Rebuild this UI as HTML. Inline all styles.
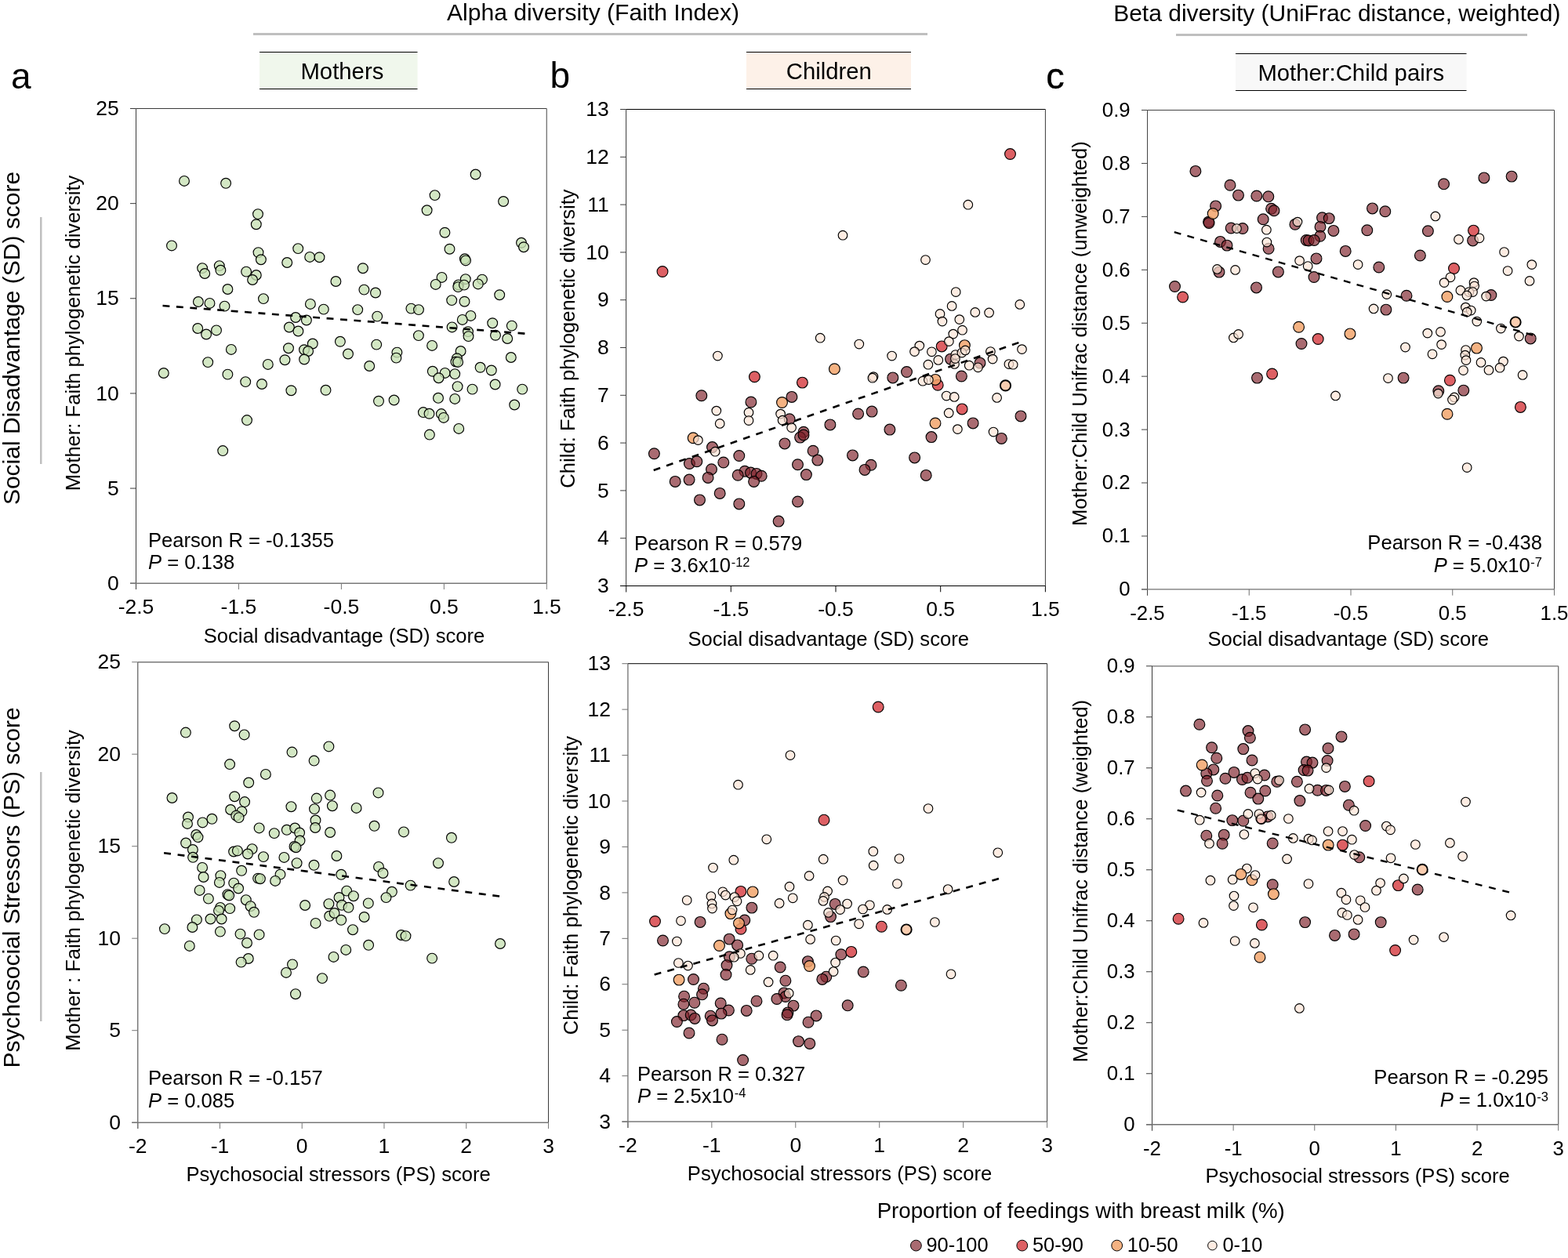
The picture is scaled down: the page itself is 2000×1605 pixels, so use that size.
<!DOCTYPE html>
<html lang="en"><head><meta charset="utf-8"><title>Figure</title>
<style>html,body{margin:0;padding:0;background:#fff}svg{display:block}</style></head>
<body>
<svg width="2000" height="1605" viewBox="0 0 2000 1605" font-family="'Liberation Sans', Arial, sans-serif" fill="#000">
<rect width="2000" height="1605" fill="#fff"/>
<text x="756.5" y="26.3" font-size="30.1" text-anchor="middle">Alpha diversity (Faith Index)</text>
<rect x="323" y="42" width="860" height="3" fill="#bfbfbf"/>
<text x="1705.3" y="26.6" font-size="30" text-anchor="middle">Beta diversity (UniFrac distance, weighted)</text>
<rect x="1500" y="43" width="448" height="3" fill="#bfbfbf"/>
<rect x="331" y="66.5" width="201.5" height="47.0" fill="#f0f7ec"/>
<path d="M331 66.5H532.5M331 113.5H532.5" stroke="#000" stroke-width="1.1" fill="none"/>
<text x="436.4" y="100.9" font-size="29.3" text-anchor="middle">Mothers</text>
<rect x="952" y="66.5" width="210" height="47.0" fill="#fdf1e8"/>
<path d="M952 66.5H1162M952 113.5H1162" stroke="#000" stroke-width="1.1" fill="none"/>
<text x="1057.3" y="100.9" font-size="29.3" text-anchor="middle">Children</text>
<rect x="1576" y="68.5" width="294.5" height="47.0" fill="#f8f8f8"/>
<path d="M1576 68.5H1870.5M1576 115.5H1870.5" stroke="#000" stroke-width="1.1" fill="none"/>
<text x="1723.25" y="103.0" font-size="29.3" text-anchor="middle">Mother:Child pairs</text>
<text x="14" y="113" font-size="46" text-anchor="start">a</text>
<text x="701.5" y="112" font-size="46" text-anchor="start">b</text>
<text x="1334.3" y="112.7" font-size="46.8" text-anchor="start" stroke="#000" stroke-width="0.35">c</text>
<text x="25" y="431.5" font-size="30" text-anchor="middle" transform="rotate(-90 25 431.5)">Social Disadvantage (SD) score</text>
<rect x="51" y="277" width="2.5" height="315" fill="#bfbfbf"/>
<text x="25" y="1132.5" font-size="30" text-anchor="middle" transform="rotate(-90 25 1132.5)">Psychosocial Stressors (PS) score</text>
<rect x="51" y="985" width="2.5" height="318" fill="#bfbfbf"/>
<g>
<path d="M173.5 138.5H697.3" fill="none" stroke="#3a3a3a" stroke-width="1.0"/>
<path d="M697.3 138.5V744.2" fill="none" stroke="#707070" stroke-width="1.3"/>
<text x="151.7" y="752.8" font-size="26.5" text-anchor="end">0</text>
<text x="151.7" y="631.66" font-size="26.5" text-anchor="end">5</text>
<text x="151.7" y="510.52" font-size="26.5" text-anchor="end">10</text>
<text x="151.7" y="389.38" font-size="26.5" text-anchor="end">15</text>
<text x="151.7" y="268.24" font-size="26.5" text-anchor="end">20</text>
<text x="151.7" y="147.1" font-size="26.5" text-anchor="end">25</text>
<text x="173.5" y="783.0" font-size="26.5" text-anchor="middle">-2.5</text>
<text x="304.45" y="783.0" font-size="26.5" text-anchor="middle">-1.5</text>
<text x="435.4" y="783.0" font-size="26.5" text-anchor="middle">-0.5</text>
<text x="566.35" y="783.0" font-size="26.5" text-anchor="middle">0.5</text>
<text x="697.3" y="783.0" font-size="26.5" text-anchor="middle">1.5</text>
<path d="M166.0 744.20H173.5M166.0 623.06H173.5M166.0 501.92H173.5M166.0 380.78H173.5M166.0 259.64H173.5M166.0 138.50H173.5" fill="none" stroke="#3a3a3a" stroke-width="1"/>
<path d="M173.50 744.2V752.0M304.45 744.2V752.0M435.40 744.2V752.0M566.35 744.2V752.0M697.30 744.2V752.0" fill="none" stroke="#787878" stroke-width="1"/>
<path d="M173.5 138.5V752.0" fill="none" stroke="#3a3a3a" stroke-width="1.0"/>
<path d="M166.0 744.2H697.3" fill="none" stroke="#787878" stroke-width="1.5"/>
<text x="439" y="819.6" font-size="25.6" text-anchor="middle">Social disadvantage (SD) score</text>
<text x="102" y="425" font-size="25.6" text-anchor="middle" transform="rotate(-90 102 425)">Mother: Faith phylogenetic diversity</text>
<circle cx="235.0" cy="230.9" r="6.4" fill="#c6e0b4" fill-opacity="0.78" stroke="#000" stroke-width="1.15"/>
<circle cx="288.1" cy="233.8" r="6.4" fill="#c6e0b4" fill-opacity="0.78" stroke="#000" stroke-width="1.15"/>
<circle cx="329.0" cy="273.1" r="6.4" fill="#c6e0b4" fill-opacity="0.78" stroke="#000" stroke-width="1.15"/>
<circle cx="326.8" cy="286.2" r="6.4" fill="#c6e0b4" fill-opacity="0.78" stroke="#000" stroke-width="1.15"/>
<circle cx="219.0" cy="313.4" r="6.4" fill="#c6e0b4" fill-opacity="0.78" stroke="#000" stroke-width="1.15"/>
<circle cx="329.5" cy="322.1" r="6.4" fill="#c6e0b4" fill-opacity="0.78" stroke="#000" stroke-width="1.15"/>
<circle cx="332.9" cy="331.2" r="6.4" fill="#c6e0b4" fill-opacity="0.78" stroke="#000" stroke-width="1.15"/>
<circle cx="380.2" cy="317.1" r="6.4" fill="#c6e0b4" fill-opacity="0.78" stroke="#000" stroke-width="1.15"/>
<circle cx="395.2" cy="327.9" r="6.4" fill="#c6e0b4" fill-opacity="0.78" stroke="#000" stroke-width="1.15"/>
<circle cx="407.5" cy="328.2" r="6.4" fill="#c6e0b4" fill-opacity="0.78" stroke="#000" stroke-width="1.15"/>
<circle cx="366.2" cy="335.0" r="6.4" fill="#c6e0b4" fill-opacity="0.78" stroke="#000" stroke-width="1.15"/>
<circle cx="258.1" cy="342.1" r="6.4" fill="#c6e0b4" fill-opacity="0.78" stroke="#000" stroke-width="1.15"/>
<circle cx="261.2" cy="349.0" r="6.4" fill="#c6e0b4" fill-opacity="0.78" stroke="#000" stroke-width="1.15"/>
<circle cx="279.8" cy="339.1" r="6.4" fill="#c6e0b4" fill-opacity="0.78" stroke="#000" stroke-width="1.15"/>
<circle cx="281.4" cy="344.8" r="6.4" fill="#c6e0b4" fill-opacity="0.78" stroke="#000" stroke-width="1.15"/>
<circle cx="314.1" cy="346.6" r="6.4" fill="#c6e0b4" fill-opacity="0.78" stroke="#000" stroke-width="1.15"/>
<circle cx="326.8" cy="351.0" r="6.4" fill="#c6e0b4" fill-opacity="0.78" stroke="#000" stroke-width="1.15"/>
<circle cx="322.1" cy="357.0" r="6.4" fill="#c6e0b4" fill-opacity="0.78" stroke="#000" stroke-width="1.15"/>
<circle cx="428.4" cy="359.0" r="6.4" fill="#c6e0b4" fill-opacity="0.78" stroke="#000" stroke-width="1.15"/>
<circle cx="290.4" cy="369.0" r="6.4" fill="#c6e0b4" fill-opacity="0.78" stroke="#000" stroke-width="1.15"/>
<circle cx="336.0" cy="381.1" r="6.4" fill="#c6e0b4" fill-opacity="0.78" stroke="#000" stroke-width="1.15"/>
<circle cx="252.9" cy="385.0" r="6.4" fill="#c6e0b4" fill-opacity="0.78" stroke="#000" stroke-width="1.15"/>
<circle cx="267.5" cy="386.9" r="6.4" fill="#c6e0b4" fill-opacity="0.78" stroke="#000" stroke-width="1.15"/>
<circle cx="286.5" cy="390.6" r="6.4" fill="#c6e0b4" fill-opacity="0.78" stroke="#000" stroke-width="1.15"/>
<circle cx="395.9" cy="387.9" r="6.4" fill="#c6e0b4" fill-opacity="0.78" stroke="#000" stroke-width="1.15"/>
<circle cx="412.8" cy="394.6" r="6.4" fill="#c6e0b4" fill-opacity="0.78" stroke="#000" stroke-width="1.15"/>
<circle cx="606.6" cy="222.5" r="6.4" fill="#c6e0b4" fill-opacity="0.78" stroke="#000" stroke-width="1.15"/>
<circle cx="554.6" cy="249.1" r="6.4" fill="#c6e0b4" fill-opacity="0.78" stroke="#000" stroke-width="1.15"/>
<circle cx="544.6" cy="268.3" r="6.4" fill="#c6e0b4" fill-opacity="0.78" stroke="#000" stroke-width="1.15"/>
<circle cx="642.1" cy="257.0" r="6.4" fill="#c6e0b4" fill-opacity="0.78" stroke="#000" stroke-width="1.15"/>
<circle cx="567.4" cy="296.7" r="6.4" fill="#c6e0b4" fill-opacity="0.78" stroke="#000" stroke-width="1.15"/>
<circle cx="573.5" cy="317.7" r="6.4" fill="#c6e0b4" fill-opacity="0.78" stroke="#000" stroke-width="1.15"/>
<circle cx="665.0" cy="309.8" r="6.4" fill="#c6e0b4" fill-opacity="0.78" stroke="#000" stroke-width="1.15"/>
<circle cx="668.0" cy="315.2" r="6.4" fill="#c6e0b4" fill-opacity="0.78" stroke="#000" stroke-width="1.15"/>
<circle cx="592.9" cy="330.3" r="6.4" fill="#c6e0b4" fill-opacity="0.78" stroke="#000" stroke-width="1.15"/>
<circle cx="594.0" cy="332.4" r="6.4" fill="#c6e0b4" fill-opacity="0.78" stroke="#000" stroke-width="1.15"/>
<circle cx="462.9" cy="342.2" r="6.4" fill="#c6e0b4" fill-opacity="0.78" stroke="#000" stroke-width="1.15"/>
<circle cx="563.5" cy="353.9" r="6.4" fill="#c6e0b4" fill-opacity="0.78" stroke="#000" stroke-width="1.15"/>
<circle cx="555.7" cy="362.9" r="6.4" fill="#c6e0b4" fill-opacity="0.78" stroke="#000" stroke-width="1.15"/>
<circle cx="593.8" cy="356.1" r="6.4" fill="#c6e0b4" fill-opacity="0.78" stroke="#000" stroke-width="1.15"/>
<circle cx="615.0" cy="356.6" r="6.4" fill="#c6e0b4" fill-opacity="0.78" stroke="#000" stroke-width="1.15"/>
<circle cx="609.8" cy="362.4" r="6.4" fill="#c6e0b4" fill-opacity="0.78" stroke="#000" stroke-width="1.15"/>
<circle cx="584.8" cy="363.4" r="6.4" fill="#c6e0b4" fill-opacity="0.78" stroke="#000" stroke-width="1.15"/>
<circle cx="584.3" cy="366.1" r="6.4" fill="#c6e0b4" fill-opacity="0.78" stroke="#000" stroke-width="1.15"/>
<circle cx="592.0" cy="363.6" r="6.4" fill="#c6e0b4" fill-opacity="0.78" stroke="#000" stroke-width="1.15"/>
<circle cx="464.4" cy="369.6" r="6.4" fill="#c6e0b4" fill-opacity="0.78" stroke="#000" stroke-width="1.15"/>
<circle cx="479.0" cy="373.5" r="6.4" fill="#c6e0b4" fill-opacity="0.78" stroke="#000" stroke-width="1.15"/>
<circle cx="637.2" cy="376.2" r="6.4" fill="#c6e0b4" fill-opacity="0.78" stroke="#000" stroke-width="1.15"/>
<circle cx="576.2" cy="383.1" r="6.4" fill="#c6e0b4" fill-opacity="0.78" stroke="#000" stroke-width="1.15"/>
<circle cx="592.5" cy="384.7" r="6.4" fill="#c6e0b4" fill-opacity="0.78" stroke="#000" stroke-width="1.15"/>
<circle cx="456.2" cy="395.1" r="6.4" fill="#c6e0b4" fill-opacity="0.78" stroke="#000" stroke-width="1.15"/>
<circle cx="524.4" cy="393.6" r="6.4" fill="#c6e0b4" fill-opacity="0.78" stroke="#000" stroke-width="1.15"/>
<circle cx="534.0" cy="395.1" r="6.4" fill="#c6e0b4" fill-opacity="0.78" stroke="#000" stroke-width="1.15"/>
<circle cx="481.2" cy="403.6" r="6.4" fill="#c6e0b4" fill-opacity="0.78" stroke="#000" stroke-width="1.15"/>
<circle cx="600.4" cy="402.9" r="6.4" fill="#c6e0b4" fill-opacity="0.78" stroke="#000" stroke-width="1.15"/>
<circle cx="589.8" cy="407.9" r="6.4" fill="#c6e0b4" fill-opacity="0.78" stroke="#000" stroke-width="1.15"/>
<circle cx="628.2" cy="412.2" r="6.4" fill="#c6e0b4" fill-opacity="0.78" stroke="#000" stroke-width="1.15"/>
<circle cx="652.8" cy="415.6" r="6.4" fill="#c6e0b4" fill-opacity="0.78" stroke="#000" stroke-width="1.15"/>
<circle cx="576.6" cy="417.4" r="6.4" fill="#c6e0b4" fill-opacity="0.78" stroke="#000" stroke-width="1.15"/>
<circle cx="377.1" cy="405.0" r="6.4" fill="#c6e0b4" fill-opacity="0.78" stroke="#000" stroke-width="1.15"/>
<circle cx="390.9" cy="408.5" r="6.4" fill="#c6e0b4" fill-opacity="0.78" stroke="#000" stroke-width="1.15"/>
<circle cx="252.2" cy="419.0" r="6.4" fill="#c6e0b4" fill-opacity="0.78" stroke="#000" stroke-width="1.15"/>
<circle cx="263.1" cy="426.5" r="6.4" fill="#c6e0b4" fill-opacity="0.78" stroke="#000" stroke-width="1.15"/>
<circle cx="276.0" cy="421.4" r="6.4" fill="#c6e0b4" fill-opacity="0.78" stroke="#000" stroke-width="1.15"/>
<circle cx="368.9" cy="417.5" r="6.4" fill="#c6e0b4" fill-opacity="0.78" stroke="#000" stroke-width="1.15"/>
<circle cx="380.4" cy="422.5" r="6.4" fill="#c6e0b4" fill-opacity="0.78" stroke="#000" stroke-width="1.15"/>
<circle cx="433.9" cy="435.8" r="6.4" fill="#c6e0b4" fill-opacity="0.78" stroke="#000" stroke-width="1.15"/>
<circle cx="398.8" cy="438.5" r="6.4" fill="#c6e0b4" fill-opacity="0.78" stroke="#000" stroke-width="1.15"/>
<circle cx="294.9" cy="445.9" r="6.4" fill="#c6e0b4" fill-opacity="0.78" stroke="#000" stroke-width="1.15"/>
<circle cx="368.0" cy="444.2" r="6.4" fill="#c6e0b4" fill-opacity="0.78" stroke="#000" stroke-width="1.15"/>
<circle cx="388.0" cy="446.2" r="6.4" fill="#c6e0b4" fill-opacity="0.78" stroke="#000" stroke-width="1.15"/>
<circle cx="393.1" cy="448.0" r="6.4" fill="#c6e0b4" fill-opacity="0.78" stroke="#000" stroke-width="1.15"/>
<circle cx="444.0" cy="451.5" r="6.4" fill="#c6e0b4" fill-opacity="0.78" stroke="#000" stroke-width="1.15"/>
<circle cx="363.4" cy="459.2" r="6.4" fill="#c6e0b4" fill-opacity="0.78" stroke="#000" stroke-width="1.15"/>
<circle cx="388.1" cy="458.5" r="6.4" fill="#c6e0b4" fill-opacity="0.78" stroke="#000" stroke-width="1.15"/>
<circle cx="265.2" cy="462.1" r="6.4" fill="#c6e0b4" fill-opacity="0.78" stroke="#000" stroke-width="1.15"/>
<circle cx="341.8" cy="464.9" r="6.4" fill="#c6e0b4" fill-opacity="0.78" stroke="#000" stroke-width="1.15"/>
<circle cx="208.8" cy="476.0" r="6.4" fill="#c6e0b4" fill-opacity="0.78" stroke="#000" stroke-width="1.15"/>
<circle cx="290.4" cy="477.6" r="6.4" fill="#c6e0b4" fill-opacity="0.78" stroke="#000" stroke-width="1.15"/>
<circle cx="313.2" cy="487.1" r="6.4" fill="#c6e0b4" fill-opacity="0.78" stroke="#000" stroke-width="1.15"/>
<circle cx="334.0" cy="490.0" r="6.4" fill="#c6e0b4" fill-opacity="0.78" stroke="#000" stroke-width="1.15"/>
<circle cx="371.4" cy="498.2" r="6.4" fill="#c6e0b4" fill-opacity="0.78" stroke="#000" stroke-width="1.15"/>
<circle cx="415.5" cy="497.8" r="6.4" fill="#c6e0b4" fill-opacity="0.78" stroke="#000" stroke-width="1.15"/>
<circle cx="315.0" cy="536.1" r="6.4" fill="#c6e0b4" fill-opacity="0.78" stroke="#000" stroke-width="1.15"/>
<circle cx="284.2" cy="575.1" r="6.4" fill="#c6e0b4" fill-opacity="0.78" stroke="#000" stroke-width="1.15"/>
<circle cx="597.0" cy="423.1" r="6.4" fill="#c6e0b4" fill-opacity="0.78" stroke="#000" stroke-width="1.15"/>
<circle cx="597.5" cy="429.1" r="6.4" fill="#c6e0b4" fill-opacity="0.78" stroke="#000" stroke-width="1.15"/>
<circle cx="632.0" cy="427.8" r="6.4" fill="#c6e0b4" fill-opacity="0.78" stroke="#000" stroke-width="1.15"/>
<circle cx="647.2" cy="432.0" r="6.4" fill="#c6e0b4" fill-opacity="0.78" stroke="#000" stroke-width="1.15"/>
<circle cx="533.9" cy="428.1" r="6.4" fill="#c6e0b4" fill-opacity="0.78" stroke="#000" stroke-width="1.15"/>
<circle cx="480.2" cy="439.6" r="6.4" fill="#c6e0b4" fill-opacity="0.78" stroke="#000" stroke-width="1.15"/>
<circle cx="551.1" cy="440.9" r="6.4" fill="#c6e0b4" fill-opacity="0.78" stroke="#000" stroke-width="1.15"/>
<circle cx="506.4" cy="449.6" r="6.4" fill="#c6e0b4" fill-opacity="0.78" stroke="#000" stroke-width="1.15"/>
<circle cx="505.4" cy="456.6" r="6.4" fill="#c6e0b4" fill-opacity="0.78" stroke="#000" stroke-width="1.15"/>
<circle cx="587.6" cy="448.0" r="6.4" fill="#c6e0b4" fill-opacity="0.78" stroke="#000" stroke-width="1.15"/>
<circle cx="582.9" cy="457.2" r="6.4" fill="#c6e0b4" fill-opacity="0.78" stroke="#000" stroke-width="1.15"/>
<circle cx="581.4" cy="461.5" r="6.4" fill="#c6e0b4" fill-opacity="0.78" stroke="#000" stroke-width="1.15"/>
<circle cx="584.1" cy="461.9" r="6.4" fill="#c6e0b4" fill-opacity="0.78" stroke="#000" stroke-width="1.15"/>
<circle cx="651.8" cy="456.0" r="6.4" fill="#c6e0b4" fill-opacity="0.78" stroke="#000" stroke-width="1.15"/>
<circle cx="471.2" cy="467.0" r="6.4" fill="#c6e0b4" fill-opacity="0.78" stroke="#000" stroke-width="1.15"/>
<circle cx="612.6" cy="468.8" r="6.4" fill="#c6e0b4" fill-opacity="0.78" stroke="#000" stroke-width="1.15"/>
<circle cx="626.8" cy="472.5" r="6.4" fill="#c6e0b4" fill-opacity="0.78" stroke="#000" stroke-width="1.15"/>
<circle cx="551.8" cy="473.8" r="6.4" fill="#c6e0b4" fill-opacity="0.78" stroke="#000" stroke-width="1.15"/>
<circle cx="567.6" cy="475.9" r="6.4" fill="#c6e0b4" fill-opacity="0.78" stroke="#000" stroke-width="1.15"/>
<circle cx="580.2" cy="477.1" r="6.4" fill="#c6e0b4" fill-opacity="0.78" stroke="#000" stroke-width="1.15"/>
<circle cx="559.5" cy="482.2" r="6.4" fill="#c6e0b4" fill-opacity="0.78" stroke="#000" stroke-width="1.15"/>
<circle cx="631.6" cy="490.5" r="6.4" fill="#c6e0b4" fill-opacity="0.78" stroke="#000" stroke-width="1.15"/>
<circle cx="583.6" cy="493.1" r="6.4" fill="#c6e0b4" fill-opacity="0.78" stroke="#000" stroke-width="1.15"/>
<circle cx="602.5" cy="496.6" r="6.4" fill="#c6e0b4" fill-opacity="0.78" stroke="#000" stroke-width="1.15"/>
<circle cx="666.2" cy="496.6" r="6.4" fill="#c6e0b4" fill-opacity="0.78" stroke="#000" stroke-width="1.15"/>
<circle cx="483.0" cy="511.8" r="6.4" fill="#c6e0b4" fill-opacity="0.78" stroke="#000" stroke-width="1.15"/>
<circle cx="502.6" cy="510.5" r="6.4" fill="#c6e0b4" fill-opacity="0.78" stroke="#000" stroke-width="1.15"/>
<circle cx="559.0" cy="507.8" r="6.4" fill="#c6e0b4" fill-opacity="0.78" stroke="#000" stroke-width="1.15"/>
<circle cx="580.2" cy="508.9" r="6.4" fill="#c6e0b4" fill-opacity="0.78" stroke="#000" stroke-width="1.15"/>
<circle cx="656.2" cy="516.5" r="6.4" fill="#c6e0b4" fill-opacity="0.78" stroke="#000" stroke-width="1.15"/>
<circle cx="539.9" cy="526.1" r="6.4" fill="#c6e0b4" fill-opacity="0.78" stroke="#000" stroke-width="1.15"/>
<circle cx="547.5" cy="527.8" r="6.4" fill="#c6e0b4" fill-opacity="0.78" stroke="#000" stroke-width="1.15"/>
<circle cx="562.9" cy="528.1" r="6.4" fill="#c6e0b4" fill-opacity="0.78" stroke="#000" stroke-width="1.15"/>
<circle cx="565.9" cy="532.9" r="6.4" fill="#c6e0b4" fill-opacity="0.78" stroke="#000" stroke-width="1.15"/>
<circle cx="585.2" cy="546.9" r="6.4" fill="#c6e0b4" fill-opacity="0.78" stroke="#000" stroke-width="1.15"/>
<circle cx="547.9" cy="554.6" r="6.4" fill="#c6e0b4" fill-opacity="0.78" stroke="#000" stroke-width="1.15"/>
<path d="M207.5 390L669.4 425.6" stroke="#000" stroke-width="2.6" stroke-dasharray="8.9 8.576" fill="none"/>
<text x="189" y="697.5" font-size="25.6" text-anchor="start">Pearson R = -0.1355</text>
<text x="189" y="726.2" font-size="25.6" text-anchor="start"><tspan font-style="italic">P</tspan> = 0.138</text>
</g>
<g>
<path d="M175.7 844.7H699.5" fill="none" stroke="#787878" stroke-width="1.5"/>
<path d="M699.5 844.7V1432.2" fill="none" stroke="#3a3a3a" stroke-width="1.0"/>
<text x="153.9" y="1440.8" font-size="26.5" text-anchor="end">0</text>
<text x="153.9" y="1323.3" font-size="26.5" text-anchor="end">5</text>
<text x="153.9" y="1205.8" font-size="26.5" text-anchor="end">10</text>
<text x="153.9" y="1088.3" font-size="26.5" text-anchor="end">15</text>
<text x="153.9" y="970.8" font-size="26.5" text-anchor="end">20</text>
<text x="153.9" y="853.3" font-size="26.5" text-anchor="end">25</text>
<text x="175.7" y="1471.0" font-size="26.5" text-anchor="middle">-2</text>
<text x="280.46" y="1471.0" font-size="26.5" text-anchor="middle">-1</text>
<text x="385.22" y="1471.0" font-size="26.5" text-anchor="middle">0</text>
<text x="489.98" y="1471.0" font-size="26.5" text-anchor="middle">1</text>
<text x="594.74" y="1471.0" font-size="26.5" text-anchor="middle">2</text>
<text x="699.5" y="1471.0" font-size="26.5" text-anchor="middle">3</text>
<path d="M168.2 1432.20H175.7M168.2 1314.70H175.7M168.2 1197.20H175.7M168.2 1079.70H175.7M168.2 962.20H175.7M168.2 844.70H175.7" fill="none" stroke="#787878" stroke-width="1"/>
<path d="M175.70 1432.2V1440.0M280.46 1432.2V1440.0M385.22 1432.2V1440.0M489.98 1432.2V1440.0M594.74 1432.2V1440.0M699.50 1432.2V1440.0" fill="none" stroke="#787878" stroke-width="1"/>
<path d="M175.7 844.7V1440.0" fill="none" stroke="#787878" stroke-width="1.5"/>
<path d="M168.2 1432.2H699.5" fill="none" stroke="#787878" stroke-width="1.5"/>
<text x="431.6" y="1507" font-size="25.6" text-anchor="middle">Psychosocial stressors (PS) score</text>
<text x="102" y="1136" font-size="25.6" text-anchor="middle" transform="rotate(-90 102 1136)">Mother : Faith phylogenetic diversity</text>
<circle cx="236.9" cy="934.6" r="6.4" fill="#c6e0b4" fill-opacity="0.78" stroke="#000" stroke-width="1.15"/>
<circle cx="299.2" cy="926.2" r="6.4" fill="#c6e0b4" fill-opacity="0.78" stroke="#000" stroke-width="1.15"/>
<circle cx="311.6" cy="937.4" r="6.4" fill="#c6e0b4" fill-opacity="0.78" stroke="#000" stroke-width="1.15"/>
<circle cx="419.4" cy="952.4" r="6.4" fill="#c6e0b4" fill-opacity="0.78" stroke="#000" stroke-width="1.15"/>
<circle cx="372.5" cy="959.6" r="6.4" fill="#c6e0b4" fill-opacity="0.78" stroke="#000" stroke-width="1.15"/>
<circle cx="400.6" cy="970.6" r="6.4" fill="#c6e0b4" fill-opacity="0.78" stroke="#000" stroke-width="1.15"/>
<circle cx="293.1" cy="975.1" r="6.4" fill="#c6e0b4" fill-opacity="0.78" stroke="#000" stroke-width="1.15"/>
<circle cx="338.9" cy="987.9" r="6.4" fill="#c6e0b4" fill-opacity="0.78" stroke="#000" stroke-width="1.15"/>
<circle cx="317.2" cy="998.5" r="6.4" fill="#c6e0b4" fill-opacity="0.78" stroke="#000" stroke-width="1.15"/>
<circle cx="219.5" cy="1018.0" r="6.4" fill="#c6e0b4" fill-opacity="0.78" stroke="#000" stroke-width="1.15"/>
<circle cx="299.2" cy="1016.2" r="6.4" fill="#c6e0b4" fill-opacity="0.78" stroke="#000" stroke-width="1.15"/>
<circle cx="312.1" cy="1023.1" r="6.4" fill="#c6e0b4" fill-opacity="0.78" stroke="#000" stroke-width="1.15"/>
<circle cx="421.1" cy="1014.6" r="6.4" fill="#c6e0b4" fill-opacity="0.78" stroke="#000" stroke-width="1.15"/>
<circle cx="403.8" cy="1018.6" r="6.4" fill="#c6e0b4" fill-opacity="0.78" stroke="#000" stroke-width="1.15"/>
<circle cx="423.9" cy="1028.2" r="6.4" fill="#c6e0b4" fill-opacity="0.78" stroke="#000" stroke-width="1.15"/>
<circle cx="371.4" cy="1029.2" r="6.4" fill="#c6e0b4" fill-opacity="0.78" stroke="#000" stroke-width="1.15"/>
<circle cx="401.0" cy="1032.1" r="6.4" fill="#c6e0b4" fill-opacity="0.78" stroke="#000" stroke-width="1.15"/>
<circle cx="294.1" cy="1033.0" r="6.4" fill="#c6e0b4" fill-opacity="0.78" stroke="#000" stroke-width="1.15"/>
<circle cx="308.4" cy="1035.4" r="6.4" fill="#c6e0b4" fill-opacity="0.78" stroke="#000" stroke-width="1.15"/>
<circle cx="301.2" cy="1040.6" r="6.4" fill="#c6e0b4" fill-opacity="0.78" stroke="#000" stroke-width="1.15"/>
<circle cx="304.6" cy="1043.1" r="6.4" fill="#c6e0b4" fill-opacity="0.78" stroke="#000" stroke-width="1.15"/>
<circle cx="240.0" cy="1042.5" r="6.4" fill="#c6e0b4" fill-opacity="0.78" stroke="#000" stroke-width="1.15"/>
<circle cx="239.0" cy="1050.9" r="6.4" fill="#c6e0b4" fill-opacity="0.78" stroke="#000" stroke-width="1.15"/>
<circle cx="258.4" cy="1049.4" r="6.4" fill="#c6e0b4" fill-opacity="0.78" stroke="#000" stroke-width="1.15"/>
<circle cx="270.4" cy="1044.8" r="6.4" fill="#c6e0b4" fill-opacity="0.78" stroke="#000" stroke-width="1.15"/>
<circle cx="402.5" cy="1046.5" r="6.4" fill="#c6e0b4" fill-opacity="0.78" stroke="#000" stroke-width="1.15"/>
<circle cx="402.1" cy="1056.0" r="6.4" fill="#c6e0b4" fill-opacity="0.78" stroke="#000" stroke-width="1.15"/>
<circle cx="330.6" cy="1056.4" r="6.4" fill="#c6e0b4" fill-opacity="0.78" stroke="#000" stroke-width="1.15"/>
<circle cx="349.8" cy="1063.1" r="6.4" fill="#c6e0b4" fill-opacity="0.78" stroke="#000" stroke-width="1.15"/>
<circle cx="365.8" cy="1058.8" r="6.4" fill="#c6e0b4" fill-opacity="0.78" stroke="#000" stroke-width="1.15"/>
<circle cx="376.2" cy="1056.5" r="6.4" fill="#c6e0b4" fill-opacity="0.78" stroke="#000" stroke-width="1.15"/>
<circle cx="382.1" cy="1062.5" r="6.4" fill="#c6e0b4" fill-opacity="0.78" stroke="#000" stroke-width="1.15"/>
<circle cx="421.1" cy="1062.0" r="6.4" fill="#c6e0b4" fill-opacity="0.78" stroke="#000" stroke-width="1.15"/>
<circle cx="250.2" cy="1065.0" r="6.4" fill="#c6e0b4" fill-opacity="0.78" stroke="#000" stroke-width="1.15"/>
<circle cx="252.5" cy="1068.1" r="6.4" fill="#c6e0b4" fill-opacity="0.78" stroke="#000" stroke-width="1.15"/>
<circle cx="237.1" cy="1075.5" r="6.4" fill="#c6e0b4" fill-opacity="0.78" stroke="#000" stroke-width="1.15"/>
<circle cx="382.5" cy="1072.5" r="6.4" fill="#c6e0b4" fill-opacity="0.78" stroke="#000" stroke-width="1.15"/>
<circle cx="375.5" cy="1080.0" r="6.4" fill="#c6e0b4" fill-opacity="0.78" stroke="#000" stroke-width="1.15"/>
<circle cx="377.5" cy="1081.2" r="6.4" fill="#c6e0b4" fill-opacity="0.78" stroke="#000" stroke-width="1.15"/>
<circle cx="245.9" cy="1084.0" r="6.4" fill="#c6e0b4" fill-opacity="0.78" stroke="#000" stroke-width="1.15"/>
<circle cx="298.1" cy="1086.5" r="6.4" fill="#c6e0b4" fill-opacity="0.78" stroke="#000" stroke-width="1.15"/>
<circle cx="302.9" cy="1085.4" r="6.4" fill="#c6e0b4" fill-opacity="0.78" stroke="#000" stroke-width="1.15"/>
<circle cx="321.6" cy="1083.1" r="6.4" fill="#c6e0b4" fill-opacity="0.78" stroke="#000" stroke-width="1.15"/>
<circle cx="316.0" cy="1089.5" r="6.4" fill="#c6e0b4" fill-opacity="0.78" stroke="#000" stroke-width="1.15"/>
<circle cx="336.0" cy="1093.1" r="6.4" fill="#c6e0b4" fill-opacity="0.78" stroke="#000" stroke-width="1.15"/>
<circle cx="246.1" cy="1093.8" r="6.4" fill="#c6e0b4" fill-opacity="0.78" stroke="#000" stroke-width="1.15"/>
<circle cx="362.4" cy="1093.9" r="6.4" fill="#c6e0b4" fill-opacity="0.78" stroke="#000" stroke-width="1.15"/>
<circle cx="429.4" cy="1092.0" r="6.4" fill="#c6e0b4" fill-opacity="0.78" stroke="#000" stroke-width="1.15"/>
<circle cx="378.6" cy="1101.2" r="6.4" fill="#c6e0b4" fill-opacity="0.78" stroke="#000" stroke-width="1.15"/>
<circle cx="400.5" cy="1103.8" r="6.4" fill="#c6e0b4" fill-opacity="0.78" stroke="#000" stroke-width="1.15"/>
<circle cx="258.1" cy="1106.9" r="6.4" fill="#c6e0b4" fill-opacity="0.78" stroke="#000" stroke-width="1.15"/>
<circle cx="482.5" cy="1011.4" r="6.4" fill="#c6e0b4" fill-opacity="0.78" stroke="#000" stroke-width="1.15"/>
<circle cx="454.6" cy="1030.9" r="6.4" fill="#c6e0b4" fill-opacity="0.78" stroke="#000" stroke-width="1.15"/>
<circle cx="477.5" cy="1053.8" r="6.4" fill="#c6e0b4" fill-opacity="0.78" stroke="#000" stroke-width="1.15"/>
<circle cx="515.0" cy="1061.4" r="6.4" fill="#c6e0b4" fill-opacity="0.78" stroke="#000" stroke-width="1.15"/>
<circle cx="575.9" cy="1068.8" r="6.4" fill="#c6e0b4" fill-opacity="0.78" stroke="#000" stroke-width="1.15"/>
<circle cx="483.0" cy="1105.9" r="6.4" fill="#c6e0b4" fill-opacity="0.78" stroke="#000" stroke-width="1.15"/>
<circle cx="559.0" cy="1101.2" r="6.4" fill="#c6e0b4" fill-opacity="0.78" stroke="#000" stroke-width="1.15"/>
<circle cx="259.6" cy="1119.0" r="6.4" fill="#c6e0b4" fill-opacity="0.78" stroke="#000" stroke-width="1.15"/>
<circle cx="308.1" cy="1110.8" r="6.4" fill="#c6e0b4" fill-opacity="0.78" stroke="#000" stroke-width="1.15"/>
<circle cx="281.4" cy="1117.1" r="6.4" fill="#c6e0b4" fill-opacity="0.78" stroke="#000" stroke-width="1.15"/>
<circle cx="279.9" cy="1125.9" r="6.4" fill="#c6e0b4" fill-opacity="0.78" stroke="#000" stroke-width="1.15"/>
<circle cx="357.5" cy="1115.6" r="6.4" fill="#c6e0b4" fill-opacity="0.78" stroke="#000" stroke-width="1.15"/>
<circle cx="351.1" cy="1123.9" r="6.4" fill="#c6e0b4" fill-opacity="0.78" stroke="#000" stroke-width="1.15"/>
<circle cx="329.1" cy="1120.6" r="6.4" fill="#c6e0b4" fill-opacity="0.78" stroke="#000" stroke-width="1.15"/>
<circle cx="331.9" cy="1121.2" r="6.4" fill="#c6e0b4" fill-opacity="0.78" stroke="#000" stroke-width="1.15"/>
<circle cx="435.2" cy="1115.8" r="6.4" fill="#c6e0b4" fill-opacity="0.78" stroke="#000" stroke-width="1.15"/>
<circle cx="298.2" cy="1126.6" r="6.4" fill="#c6e0b4" fill-opacity="0.78" stroke="#000" stroke-width="1.15"/>
<circle cx="304.1" cy="1133.5" r="6.4" fill="#c6e0b4" fill-opacity="0.78" stroke="#000" stroke-width="1.15"/>
<circle cx="254.6" cy="1135.9" r="6.4" fill="#c6e0b4" fill-opacity="0.78" stroke="#000" stroke-width="1.15"/>
<circle cx="290.4" cy="1141.2" r="6.4" fill="#c6e0b4" fill-opacity="0.78" stroke="#000" stroke-width="1.15"/>
<circle cx="292.2" cy="1142.5" r="6.4" fill="#c6e0b4" fill-opacity="0.78" stroke="#000" stroke-width="1.15"/>
<circle cx="265.9" cy="1146.6" r="6.4" fill="#c6e0b4" fill-opacity="0.78" stroke="#000" stroke-width="1.15"/>
<circle cx="313.8" cy="1148.2" r="6.4" fill="#c6e0b4" fill-opacity="0.78" stroke="#000" stroke-width="1.15"/>
<circle cx="319.6" cy="1156.2" r="6.4" fill="#c6e0b4" fill-opacity="0.78" stroke="#000" stroke-width="1.15"/>
<circle cx="324.0" cy="1163.8" r="6.4" fill="#c6e0b4" fill-opacity="0.78" stroke="#000" stroke-width="1.15"/>
<circle cx="389.1" cy="1155.0" r="6.4" fill="#c6e0b4" fill-opacity="0.78" stroke="#000" stroke-width="1.15"/>
<circle cx="419.4" cy="1153.2" r="6.4" fill="#c6e0b4" fill-opacity="0.78" stroke="#000" stroke-width="1.15"/>
<circle cx="432.5" cy="1145.0" r="6.4" fill="#c6e0b4" fill-opacity="0.78" stroke="#000" stroke-width="1.15"/>
<circle cx="436.0" cy="1154.8" r="6.4" fill="#c6e0b4" fill-opacity="0.78" stroke="#000" stroke-width="1.15"/>
<circle cx="281.0" cy="1157.9" r="6.4" fill="#c6e0b4" fill-opacity="0.78" stroke="#000" stroke-width="1.15"/>
<circle cx="279.0" cy="1161.9" r="6.4" fill="#c6e0b4" fill-opacity="0.78" stroke="#000" stroke-width="1.15"/>
<circle cx="293.2" cy="1159.1" r="6.4" fill="#c6e0b4" fill-opacity="0.78" stroke="#000" stroke-width="1.15"/>
<circle cx="250.9" cy="1173.4" r="6.4" fill="#c6e0b4" fill-opacity="0.78" stroke="#000" stroke-width="1.15"/>
<circle cx="268.5" cy="1172.5" r="6.4" fill="#c6e0b4" fill-opacity="0.78" stroke="#000" stroke-width="1.15"/>
<circle cx="282.6" cy="1172.5" r="6.4" fill="#c6e0b4" fill-opacity="0.78" stroke="#000" stroke-width="1.15"/>
<circle cx="420.2" cy="1168.8" r="6.4" fill="#c6e0b4" fill-opacity="0.78" stroke="#000" stroke-width="1.15"/>
<circle cx="426.6" cy="1165.0" r="6.4" fill="#c6e0b4" fill-opacity="0.78" stroke="#000" stroke-width="1.15"/>
<circle cx="435.2" cy="1173.8" r="6.4" fill="#c6e0b4" fill-opacity="0.78" stroke="#000" stroke-width="1.15"/>
<circle cx="245.4" cy="1183.0" r="6.4" fill="#c6e0b4" fill-opacity="0.78" stroke="#000" stroke-width="1.15"/>
<circle cx="210.0" cy="1185.1" r="6.4" fill="#c6e0b4" fill-opacity="0.78" stroke="#000" stroke-width="1.15"/>
<circle cx="402.6" cy="1177.9" r="6.4" fill="#c6e0b4" fill-opacity="0.78" stroke="#000" stroke-width="1.15"/>
<circle cx="280.9" cy="1188.6" r="6.4" fill="#c6e0b4" fill-opacity="0.78" stroke="#000" stroke-width="1.15"/>
<circle cx="306.5" cy="1191.6" r="6.4" fill="#c6e0b4" fill-opacity="0.78" stroke="#000" stroke-width="1.15"/>
<circle cx="330.6" cy="1192.4" r="6.4" fill="#c6e0b4" fill-opacity="0.78" stroke="#000" stroke-width="1.15"/>
<circle cx="315.0" cy="1203.0" r="6.4" fill="#c6e0b4" fill-opacity="0.78" stroke="#000" stroke-width="1.15"/>
<circle cx="241.8" cy="1206.9" r="6.4" fill="#c6e0b4" fill-opacity="0.78" stroke="#000" stroke-width="1.15"/>
<circle cx="425.5" cy="1220.9" r="6.4" fill="#c6e0b4" fill-opacity="0.78" stroke="#000" stroke-width="1.15"/>
<circle cx="316.8" cy="1223.0" r="6.4" fill="#c6e0b4" fill-opacity="0.78" stroke="#000" stroke-width="1.15"/>
<circle cx="307.6" cy="1227.6" r="6.4" fill="#c6e0b4" fill-opacity="0.78" stroke="#000" stroke-width="1.15"/>
<circle cx="373.0" cy="1230.4" r="6.4" fill="#c6e0b4" fill-opacity="0.78" stroke="#000" stroke-width="1.15"/>
<circle cx="365.0" cy="1240.9" r="6.4" fill="#c6e0b4" fill-opacity="0.78" stroke="#000" stroke-width="1.15"/>
<circle cx="411.0" cy="1248.1" r="6.4" fill="#c6e0b4" fill-opacity="0.78" stroke="#000" stroke-width="1.15"/>
<circle cx="377.0" cy="1268.2" r="6.4" fill="#c6e0b4" fill-opacity="0.78" stroke="#000" stroke-width="1.15"/>
<circle cx="488.5" cy="1114.0" r="6.4" fill="#c6e0b4" fill-opacity="0.78" stroke="#000" stroke-width="1.15"/>
<circle cx="579.1" cy="1125.0" r="6.4" fill="#c6e0b4" fill-opacity="0.78" stroke="#000" stroke-width="1.15"/>
<circle cx="523.6" cy="1129.6" r="6.4" fill="#c6e0b4" fill-opacity="0.78" stroke="#000" stroke-width="1.15"/>
<circle cx="442.2" cy="1136.6" r="6.4" fill="#c6e0b4" fill-opacity="0.78" stroke="#000" stroke-width="1.15"/>
<circle cx="450.9" cy="1143.2" r="6.4" fill="#c6e0b4" fill-opacity="0.78" stroke="#000" stroke-width="1.15"/>
<circle cx="499.9" cy="1137.8" r="6.4" fill="#c6e0b4" fill-opacity="0.78" stroke="#000" stroke-width="1.15"/>
<circle cx="492.5" cy="1145.1" r="6.4" fill="#c6e0b4" fill-opacity="0.78" stroke="#000" stroke-width="1.15"/>
<circle cx="469.8" cy="1152.4" r="6.4" fill="#c6e0b4" fill-opacity="0.78" stroke="#000" stroke-width="1.15"/>
<circle cx="444.5" cy="1157.8" r="6.4" fill="#c6e0b4" fill-opacity="0.78" stroke="#000" stroke-width="1.15"/>
<circle cx="464.6" cy="1170.0" r="6.4" fill="#c6e0b4" fill-opacity="0.78" stroke="#000" stroke-width="1.15"/>
<circle cx="450.0" cy="1186.2" r="6.4" fill="#c6e0b4" fill-opacity="0.78" stroke="#000" stroke-width="1.15"/>
<circle cx="511.9" cy="1193.0" r="6.4" fill="#c6e0b4" fill-opacity="0.78" stroke="#000" stroke-width="1.15"/>
<circle cx="517.5" cy="1194.1" r="6.4" fill="#c6e0b4" fill-opacity="0.78" stroke="#000" stroke-width="1.15"/>
<circle cx="470.1" cy="1205.8" r="6.4" fill="#c6e0b4" fill-opacity="0.78" stroke="#000" stroke-width="1.15"/>
<circle cx="441.2" cy="1211.9" r="6.4" fill="#c6e0b4" fill-opacity="0.78" stroke="#000" stroke-width="1.15"/>
<circle cx="638.0" cy="1204.0" r="6.4" fill="#c6e0b4" fill-opacity="0.78" stroke="#000" stroke-width="1.15"/>
<circle cx="551.1" cy="1222.6" r="6.4" fill="#c6e0b4" fill-opacity="0.78" stroke="#000" stroke-width="1.15"/>
<path d="M209.1 1088.2L637.1 1143.5" stroke="#000" stroke-width="2.6" stroke-dasharray="8.9 8.711" fill="none"/>
<text x="189" y="1383.5" font-size="25.6" text-anchor="start">Pearson R = -0.157</text>
<text x="189" y="1413" font-size="25.6" text-anchor="start"><tspan font-style="italic">P</tspan> = 0.085</text>
</g>
<g>
<path d="M798.6 139.5H1333.4" fill="none" stroke="#000" stroke-width="1.0"/>
<path d="M1333.4 139.5V747.5" fill="none" stroke="#3a3a3a" stroke-width="1.0"/>
<text x="776.8" y="756.1" font-size="26.5" text-anchor="end">3</text>
<text x="776.8" y="695.3" font-size="26.5" text-anchor="end">4</text>
<text x="776.8" y="634.5" font-size="26.5" text-anchor="end">5</text>
<text x="776.8" y="573.7" font-size="26.5" text-anchor="end">6</text>
<text x="776.8" y="512.9" font-size="26.5" text-anchor="end">7</text>
<text x="776.8" y="452.1" font-size="26.5" text-anchor="end">8</text>
<text x="776.8" y="391.3" font-size="26.5" text-anchor="end">9</text>
<text x="776.8" y="330.5" font-size="26.5" text-anchor="end">10</text>
<text x="776.8" y="269.7" font-size="26.5" text-anchor="end">11</text>
<text x="776.8" y="208.9" font-size="26.5" text-anchor="end">12</text>
<text x="776.8" y="148.1" font-size="26.5" text-anchor="end">13</text>
<text x="798.6" y="786.3" font-size="26.5" text-anchor="middle">-2.5</text>
<text x="932.3" y="786.3" font-size="26.5" text-anchor="middle">-1.5</text>
<text x="1066.0" y="786.3" font-size="26.5" text-anchor="middle">-0.5</text>
<text x="1199.7" y="786.3" font-size="26.5" text-anchor="middle">0.5</text>
<text x="1333.4" y="786.3" font-size="26.5" text-anchor="middle">1.5</text>
<path d="M791.1 747.50H798.6M791.1 686.70H798.6M791.1 625.90H798.6M791.1 565.10H798.6M791.1 504.30H798.6M791.1 443.50H798.6M791.1 382.70H798.6M791.1 321.90H798.6M791.1 261.10H798.6M791.1 200.30H798.6M791.1 139.50H798.6" fill="none" stroke="#3a3a3a" stroke-width="1"/>
<path d="M798.60 747.5V755.3M932.30 747.5V755.3M1066.00 747.5V755.3M1199.70 747.5V755.3M1333.40 747.5V755.3" fill="none" stroke="#000" stroke-width="1"/>
<path d="M798.6 139.5V755.3" fill="none" stroke="#3a3a3a" stroke-width="1.0"/>
<path d="M791.1 747.5H1333.4" fill="none" stroke="#000" stroke-width="1.0"/>
<text x="1056.7" y="824" font-size="25.6" text-anchor="middle">Social disadvantage (SD) score</text>
<text x="733" y="432" font-size="25.6" text-anchor="middle" transform="rotate(-90 733 432)">Child: Faith phylogenetic diversity</text>
<circle cx="1288.5" cy="196.5" r="6.9" fill="#d84a4e" fill-opacity="0.88" stroke="#000" stroke-width="1.15"/>
<circle cx="845.0" cy="346.5" r="6.9" fill="#d84a4e" fill-opacity="0.88" stroke="#000" stroke-width="1.15"/>
<circle cx="1234.8" cy="261.2" r="5.8" fill="#fce4d6" fill-opacity="0.7" stroke="#000" stroke-width="1.15"/>
<circle cx="1075.0" cy="300.2" r="5.8" fill="#fce4d6" fill-opacity="0.7" stroke="#000" stroke-width="1.15"/>
<circle cx="1180.5" cy="331.5" r="5.8" fill="#fce4d6" fill-opacity="0.7" stroke="#000" stroke-width="1.15"/>
<circle cx="1219.2" cy="372.5" r="5.8" fill="#fce4d6" fill-opacity="0.7" stroke="#000" stroke-width="1.15"/>
<circle cx="1212.5" cy="458.1" r="6.9" fill="#7d1f27" fill-opacity="0.66" stroke="#000" stroke-width="1.15"/>
<circle cx="1250.0" cy="463.1" r="6.9" fill="#7d1f27" fill-opacity="0.66" stroke="#000" stroke-width="1.15"/>
<circle cx="1156.5" cy="474.5" r="6.9" fill="#7d1f27" fill-opacity="0.66" stroke="#000" stroke-width="1.15"/>
<circle cx="1138.8" cy="481.9" r="6.9" fill="#7d1f27" fill-opacity="0.66" stroke="#000" stroke-width="1.15"/>
<circle cx="1226.4" cy="480.0" r="6.9" fill="#7d1f27" fill-opacity="0.66" stroke="#000" stroke-width="1.15"/>
<circle cx="1094.6" cy="528.0" r="6.9" fill="#7d1f27" fill-opacity="0.66" stroke="#000" stroke-width="1.15"/>
<circle cx="1112.1" cy="525.1" r="6.9" fill="#7d1f27" fill-opacity="0.66" stroke="#000" stroke-width="1.15"/>
<circle cx="1134.9" cy="548.1" r="6.9" fill="#7d1f27" fill-opacity="0.66" stroke="#000" stroke-width="1.15"/>
<circle cx="1241.1" cy="539.9" r="6.9" fill="#7d1f27" fill-opacity="0.66" stroke="#000" stroke-width="1.15"/>
<circle cx="1302.0" cy="530.9" r="6.9" fill="#7d1f27" fill-opacity="0.66" stroke="#000" stroke-width="1.15"/>
<circle cx="1188.0" cy="557.6" r="6.9" fill="#7d1f27" fill-opacity="0.66" stroke="#000" stroke-width="1.15"/>
<circle cx="1277.4" cy="559.4" r="6.9" fill="#7d1f27" fill-opacity="0.66" stroke="#000" stroke-width="1.15"/>
<circle cx="1087.5" cy="580.9" r="6.9" fill="#7d1f27" fill-opacity="0.66" stroke="#000" stroke-width="1.15"/>
<circle cx="1201.2" cy="441.9" r="6.9" fill="#d84a4e" fill-opacity="0.88" stroke="#000" stroke-width="1.15"/>
<circle cx="1196.2" cy="491.2" r="6.9" fill="#d84a4e" fill-opacity="0.88" stroke="#000" stroke-width="1.15"/>
<circle cx="1227.1" cy="521.9" r="6.9" fill="#d84a4e" fill-opacity="0.88" stroke="#000" stroke-width="1.15"/>
<circle cx="1230.4" cy="440.6" r="6.9" fill="#f2a46c" fill-opacity="0.85" stroke="#000" stroke-width="1.15"/>
<circle cx="1193.1" cy="484.4" r="6.9" fill="#f2a46c" fill-opacity="0.85" stroke="#000" stroke-width="1.15"/>
<circle cx="1193.0" cy="540.0" r="6.9" fill="#f2a46c" fill-opacity="0.85" stroke="#000" stroke-width="1.15"/>
<circle cx="1214.1" cy="390.4" r="5.8" fill="#fce4d6" fill-opacity="0.7" stroke="#000" stroke-width="1.15"/>
<circle cx="1300.8" cy="388.4" r="5.8" fill="#fce4d6" fill-opacity="0.7" stroke="#000" stroke-width="1.15"/>
<circle cx="1243.8" cy="398.4" r="5.8" fill="#fce4d6" fill-opacity="0.7" stroke="#000" stroke-width="1.15"/>
<circle cx="1261.6" cy="398.9" r="5.8" fill="#fce4d6" fill-opacity="0.7" stroke="#000" stroke-width="1.15"/>
<circle cx="1199.0" cy="400.4" r="5.8" fill="#fce4d6" fill-opacity="0.7" stroke="#000" stroke-width="1.15"/>
<circle cx="1201.9" cy="410.1" r="5.8" fill="#fce4d6" fill-opacity="0.7" stroke="#000" stroke-width="1.15"/>
<circle cx="1223.8" cy="407.6" r="5.8" fill="#fce4d6" fill-opacity="0.7" stroke="#000" stroke-width="1.15"/>
<circle cx="1227.5" cy="421.2" r="5.8" fill="#fce4d6" fill-opacity="0.7" stroke="#000" stroke-width="1.15"/>
<circle cx="1215.8" cy="426.1" r="5.8" fill="#fce4d6" fill-opacity="0.7" stroke="#000" stroke-width="1.15"/>
<circle cx="1210.4" cy="435.6" r="5.8" fill="#fce4d6" fill-opacity="0.7" stroke="#000" stroke-width="1.15"/>
<circle cx="1095.8" cy="439.0" r="5.8" fill="#fce4d6" fill-opacity="0.7" stroke="#000" stroke-width="1.15"/>
<circle cx="1172.8" cy="441.1" r="5.8" fill="#fce4d6" fill-opacity="0.7" stroke="#000" stroke-width="1.15"/>
<circle cx="1166.5" cy="448.6" r="5.8" fill="#fce4d6" fill-opacity="0.7" stroke="#000" stroke-width="1.15"/>
<circle cx="1188.4" cy="448.8" r="5.8" fill="#fce4d6" fill-opacity="0.7" stroke="#000" stroke-width="1.15"/>
<circle cx="1137.6" cy="454.0" r="5.8" fill="#fce4d6" fill-opacity="0.7" stroke="#000" stroke-width="1.15"/>
<circle cx="1196.8" cy="459.4" r="5.8" fill="#fce4d6" fill-opacity="0.7" stroke="#000" stroke-width="1.15"/>
<circle cx="1183.9" cy="465.2" r="5.8" fill="#fce4d6" fill-opacity="0.7" stroke="#000" stroke-width="1.15"/>
<circle cx="1263.4" cy="448.5" r="5.8" fill="#fce4d6" fill-opacity="0.7" stroke="#000" stroke-width="1.15"/>
<circle cx="1303.5" cy="445.6" r="5.8" fill="#fce4d6" fill-opacity="0.7" stroke="#000" stroke-width="1.15"/>
<circle cx="1266.1" cy="458.1" r="5.8" fill="#fce4d6" fill-opacity="0.7" stroke="#000" stroke-width="1.15"/>
<circle cx="1286.9" cy="464.5" r="5.8" fill="#fce4d6" fill-opacity="0.7" stroke="#000" stroke-width="1.15"/>
<circle cx="1292.2" cy="465.2" r="5.8" fill="#fce4d6" fill-opacity="0.7" stroke="#000" stroke-width="1.15"/>
<circle cx="1236.2" cy="466.2" r="5.8" fill="#fce4d6" fill-opacity="0.7" stroke="#000" stroke-width="1.15"/>
<circle cx="1217.5" cy="464.4" r="5.8" fill="#fce4d6" fill-opacity="0.7" stroke="#000" stroke-width="1.15"/>
<circle cx="1218.8" cy="452.5" r="5.8" fill="#fce4d6" fill-opacity="0.7" stroke="#000" stroke-width="1.15"/>
<circle cx="1218.4" cy="457.5" r="5.8" fill="#fce4d6" fill-opacity="0.7" stroke="#000" stroke-width="1.15"/>
<circle cx="1226.9" cy="450.0" r="5.8" fill="#fce4d6" fill-opacity="0.7" stroke="#000" stroke-width="1.15"/>
<circle cx="1231.2" cy="446.9" r="5.8" fill="#fce4d6" fill-opacity="0.7" stroke="#000" stroke-width="1.15"/>
<circle cx="1114.1" cy="480.6" r="5.8" fill="#fce4d6" fill-opacity="0.7" stroke="#000" stroke-width="1.15"/>
<circle cx="1112.9" cy="482.2" r="5.8" fill="#fce4d6" fill-opacity="0.7" stroke="#000" stroke-width="1.15"/>
<circle cx="1177.0" cy="486.2" r="5.8" fill="#fce4d6" fill-opacity="0.7" stroke="#000" stroke-width="1.15"/>
<circle cx="1184.4" cy="484.6" r="5.8" fill="#fce4d6" fill-opacity="0.7" stroke="#000" stroke-width="1.15"/>
<circle cx="1207.2" cy="505.0" r="5.8" fill="#fce4d6" fill-opacity="0.7" stroke="#000" stroke-width="1.15"/>
<circle cx="1217.2" cy="506.4" r="5.8" fill="#fce4d6" fill-opacity="0.7" stroke="#000" stroke-width="1.15"/>
<circle cx="1271.6" cy="507.4" r="5.8" fill="#fce4d6" fill-opacity="0.7" stroke="#000" stroke-width="1.15"/>
<circle cx="1210.2" cy="526.9" r="5.8" fill="#fce4d6" fill-opacity="0.7" stroke="#000" stroke-width="1.15"/>
<circle cx="1221.4" cy="547.6" r="5.8" fill="#fce4d6" fill-opacity="0.7" stroke="#000" stroke-width="1.15"/>
<circle cx="1267.1" cy="551.0" r="5.8" fill="#fce4d6" fill-opacity="0.7" stroke="#000" stroke-width="1.15"/>
<circle cx="1247.5" cy="468.8" r="5.8" fill="#fce4d6" fill-opacity="0.7" stroke="#000" stroke-width="1.15"/>
<circle cx="894.8" cy="504.8" r="6.9" fill="#7d1f27" fill-opacity="0.66" stroke="#000" stroke-width="1.15"/>
<circle cx="957.9" cy="513.0" r="6.9" fill="#7d1f27" fill-opacity="0.66" stroke="#000" stroke-width="1.15"/>
<circle cx="1009.9" cy="506.4" r="6.9" fill="#7d1f27" fill-opacity="0.66" stroke="#000" stroke-width="1.15"/>
<circle cx="1007.1" cy="534.8" r="6.9" fill="#7d1f27" fill-opacity="0.66" stroke="#000" stroke-width="1.15"/>
<circle cx="1058.9" cy="541.9" r="6.9" fill="#7d1f27" fill-opacity="0.66" stroke="#000" stroke-width="1.15"/>
<circle cx="1025.0" cy="551.2" r="6.9" fill="#7d1f27" fill-opacity="0.66" stroke="#000" stroke-width="1.15"/>
<circle cx="1020.6" cy="558.1" r="6.9" fill="#7d1f27" fill-opacity="0.66" stroke="#000" stroke-width="1.15"/>
<circle cx="1025.0" cy="555.0" r="6.9" fill="#7d1f27" fill-opacity="0.66" stroke="#000" stroke-width="1.15"/>
<circle cx="1000.9" cy="565.9" r="6.9" fill="#7d1f27" fill-opacity="0.66" stroke="#000" stroke-width="1.15"/>
<circle cx="908.5" cy="570.6" r="6.9" fill="#7d1f27" fill-opacity="0.66" stroke="#000" stroke-width="1.15"/>
<circle cx="834.4" cy="578.8" r="6.9" fill="#7d1f27" fill-opacity="0.66" stroke="#000" stroke-width="1.15"/>
<circle cx="1037.1" cy="575.2" r="6.9" fill="#7d1f27" fill-opacity="0.66" stroke="#000" stroke-width="1.15"/>
<circle cx="962.4" cy="480.8" r="6.9" fill="#d84a4e" fill-opacity="0.88" stroke="#000" stroke-width="1.15"/>
<circle cx="1023.4" cy="488.1" r="6.9" fill="#d84a4e" fill-opacity="0.88" stroke="#000" stroke-width="1.15"/>
<circle cx="1064.4" cy="470.8" r="6.9" fill="#f2a46c" fill-opacity="0.85" stroke="#000" stroke-width="1.15"/>
<circle cx="997.5" cy="513.5" r="6.9" fill="#f2a46c" fill-opacity="0.85" stroke="#000" stroke-width="1.15"/>
<circle cx="884.2" cy="558.8" r="6.9" fill="#f2a46c" fill-opacity="0.85" stroke="#000" stroke-width="1.15"/>
<circle cx="1046.2" cy="431.2" r="5.8" fill="#fce4d6" fill-opacity="0.7" stroke="#000" stroke-width="1.15"/>
<circle cx="915.4" cy="454.0" r="5.8" fill="#fce4d6" fill-opacity="0.7" stroke="#000" stroke-width="1.15"/>
<circle cx="913.8" cy="524.1" r="5.8" fill="#fce4d6" fill-opacity="0.7" stroke="#000" stroke-width="1.15"/>
<circle cx="918.2" cy="540.4" r="5.8" fill="#fce4d6" fill-opacity="0.7" stroke="#000" stroke-width="1.15"/>
<circle cx="955.0" cy="526.2" r="5.8" fill="#fce4d6" fill-opacity="0.7" stroke="#000" stroke-width="1.15"/>
<circle cx="955.0" cy="536.5" r="5.8" fill="#fce4d6" fill-opacity="0.7" stroke="#000" stroke-width="1.15"/>
<circle cx="995.6" cy="528.1" r="5.8" fill="#fce4d6" fill-opacity="0.7" stroke="#000" stroke-width="1.15"/>
<circle cx="998.1" cy="536.2" r="5.8" fill="#fce4d6" fill-opacity="0.7" stroke="#000" stroke-width="1.15"/>
<circle cx="1009.6" cy="545.6" r="5.8" fill="#fce4d6" fill-opacity="0.7" stroke="#000" stroke-width="1.15"/>
<circle cx="890.4" cy="561.6" r="5.8" fill="#fce4d6" fill-opacity="0.7" stroke="#000" stroke-width="1.15"/>
<circle cx="942.8" cy="581.5" r="6.9" fill="#7d1f27" fill-opacity="0.66" stroke="#000" stroke-width="1.15"/>
<circle cx="1042.8" cy="587.1" r="6.9" fill="#7d1f27" fill-opacity="0.66" stroke="#000" stroke-width="1.15"/>
<circle cx="879.4" cy="591.5" r="6.9" fill="#7d1f27" fill-opacity="0.66" stroke="#000" stroke-width="1.15"/>
<circle cx="888.8" cy="588.8" r="6.9" fill="#7d1f27" fill-opacity="0.66" stroke="#000" stroke-width="1.15"/>
<circle cx="922.8" cy="590.0" r="6.9" fill="#7d1f27" fill-opacity="0.66" stroke="#000" stroke-width="1.15"/>
<circle cx="1017.5" cy="592.8" r="6.9" fill="#7d1f27" fill-opacity="0.66" stroke="#000" stroke-width="1.15"/>
<circle cx="907.5" cy="598.8" r="6.9" fill="#7d1f27" fill-opacity="0.66" stroke="#000" stroke-width="1.15"/>
<circle cx="903.1" cy="609.4" r="6.9" fill="#7d1f27" fill-opacity="0.66" stroke="#000" stroke-width="1.15"/>
<circle cx="950.0" cy="601.2" r="6.9" fill="#7d1f27" fill-opacity="0.66" stroke="#000" stroke-width="1.15"/>
<circle cx="957.5" cy="603.1" r="6.9" fill="#7d1f27" fill-opacity="0.66" stroke="#000" stroke-width="1.15"/>
<circle cx="965.0" cy="604.4" r="6.9" fill="#7d1f27" fill-opacity="0.66" stroke="#000" stroke-width="1.15"/>
<circle cx="971.2" cy="607.2" r="6.9" fill="#7d1f27" fill-opacity="0.66" stroke="#000" stroke-width="1.15"/>
<circle cx="941.2" cy="606.2" r="6.9" fill="#7d1f27" fill-opacity="0.66" stroke="#000" stroke-width="1.15"/>
<circle cx="961.6" cy="614.4" r="6.9" fill="#7d1f27" fill-opacity="0.66" stroke="#000" stroke-width="1.15"/>
<circle cx="1028.4" cy="605.6" r="6.9" fill="#7d1f27" fill-opacity="0.66" stroke="#000" stroke-width="1.15"/>
<circle cx="861.2" cy="614.4" r="6.9" fill="#7d1f27" fill-opacity="0.66" stroke="#000" stroke-width="1.15"/>
<circle cx="879.1" cy="612.1" r="6.9" fill="#7d1f27" fill-opacity="0.66" stroke="#000" stroke-width="1.15"/>
<circle cx="918.2" cy="629.4" r="6.9" fill="#7d1f27" fill-opacity="0.66" stroke="#000" stroke-width="1.15"/>
<circle cx="892.5" cy="637.9" r="6.9" fill="#7d1f27" fill-opacity="0.66" stroke="#000" stroke-width="1.15"/>
<circle cx="942.8" cy="642.9" r="6.9" fill="#7d1f27" fill-opacity="0.66" stroke="#000" stroke-width="1.15"/>
<circle cx="1017.5" cy="640.0" r="6.9" fill="#7d1f27" fill-opacity="0.66" stroke="#000" stroke-width="1.15"/>
<circle cx="993.1" cy="665.1" r="6.9" fill="#7d1f27" fill-opacity="0.66" stroke="#000" stroke-width="1.15"/>
<circle cx="912.2" cy="576.2" r="5.8" fill="#fce4d6" fill-opacity="0.7" stroke="#000" stroke-width="1.15"/>
<circle cx="1111.0" cy="593.2" r="6.9" fill="#7d1f27" fill-opacity="0.66" stroke="#000" stroke-width="1.15"/>
<circle cx="1103.0" cy="599.4" r="6.9" fill="#7d1f27" fill-opacity="0.66" stroke="#000" stroke-width="1.15"/>
<circle cx="1166.6" cy="583.9" r="6.9" fill="#7d1f27" fill-opacity="0.66" stroke="#000" stroke-width="1.15"/>
<circle cx="1181.2" cy="606.4" r="6.9" fill="#7d1f27" fill-opacity="0.66" stroke="#000" stroke-width="1.15"/>
<path d="M833.7 600L1299.4 437.1" stroke="#000" stroke-width="2.6" stroke-dasharray="8.9 8.402" fill="none"/>
<circle cx="1282.5" cy="491.9" r="6.6" fill="#f9cdb0" fill-opacity="1.0" stroke="#000" stroke-width="1.9"/>
<text x="809" y="701.8" font-size="25.6" text-anchor="start">Pearson R = 0.579</text>
<text x="809" y="730.3" font-size="25.6" text-anchor="start"><tspan font-style="italic">P</tspan> = 3.6x10<tspan font-size="16.5" dy="-7.4" dx="0.6">-12</tspan></text>
</g>
<g>
<path d="M800.9 846.7H1335.6" fill="none" stroke="#000" stroke-width="1.0"/>
<path d="M1335.6 846.7V1431.1" fill="none" stroke="#3a3a3a" stroke-width="1.0"/>
<text x="779.1" y="1439.7" font-size="26.5" text-anchor="end">3</text>
<text x="779.1" y="1381.26" font-size="26.5" text-anchor="end">4</text>
<text x="779.1" y="1322.82" font-size="26.5" text-anchor="end">5</text>
<text x="779.1" y="1264.38" font-size="26.5" text-anchor="end">6</text>
<text x="779.1" y="1205.94" font-size="26.5" text-anchor="end">7</text>
<text x="779.1" y="1147.5" font-size="26.5" text-anchor="end">8</text>
<text x="779.1" y="1089.06" font-size="26.5" text-anchor="end">9</text>
<text x="779.1" y="1030.62" font-size="26.5" text-anchor="end">10</text>
<text x="779.1" y="972.18" font-size="26.5" text-anchor="end">11</text>
<text x="779.1" y="913.74" font-size="26.5" text-anchor="end">12</text>
<text x="779.1" y="855.3" font-size="26.5" text-anchor="end">13</text>
<text x="800.9" y="1469.9" font-size="26.5" text-anchor="middle">-2</text>
<text x="907.84" y="1469.9" font-size="26.5" text-anchor="middle">-1</text>
<text x="1014.78" y="1469.9" font-size="26.5" text-anchor="middle">0</text>
<text x="1121.72" y="1469.9" font-size="26.5" text-anchor="middle">1</text>
<text x="1228.66" y="1469.9" font-size="26.5" text-anchor="middle">2</text>
<text x="1335.6" y="1469.9" font-size="26.5" text-anchor="middle">3</text>
<path d="M793.4 1431.10H800.9M793.4 1372.66H800.9M793.4 1314.22H800.9M793.4 1255.78H800.9M793.4 1197.34H800.9M793.4 1138.90H800.9M793.4 1080.46H800.9M793.4 1022.02H800.9M793.4 963.58H800.9M793.4 905.14H800.9M793.4 846.70H800.9" fill="none" stroke="#707070" stroke-width="1"/>
<path d="M800.90 1431.1V1438.8999999999999M907.84 1431.1V1438.8999999999999M1014.78 1431.1V1438.8999999999999M1121.72 1431.1V1438.8999999999999M1228.66 1431.1V1438.8999999999999M1335.60 1431.1V1438.8999999999999" fill="none" stroke="#787878" stroke-width="1"/>
<path d="M800.9 846.7V1438.8999999999999" fill="none" stroke="#707070" stroke-width="1.3"/>
<path d="M793.4 1431.1H1335.6" fill="none" stroke="#787878" stroke-width="1.5"/>
<text x="1071" y="1506" font-size="25.6" text-anchor="middle">Psychosocial stressors (PS) score</text>
<text x="736.5" y="1129.5" font-size="25.6" text-anchor="middle" transform="rotate(-90 736.5 1129.5)">Child: Faith phylogenetic diversity</text>
<circle cx="1120.2" cy="902.0" r="6.9" fill="#d84a4e" fill-opacity="0.88" stroke="#000" stroke-width="1.15"/>
<circle cx="1051.0" cy="1046.2" r="6.9" fill="#d84a4e" fill-opacity="0.88" stroke="#000" stroke-width="1.15"/>
<circle cx="1008.0" cy="963.5" r="5.8" fill="#fce4d6" fill-opacity="0.7" stroke="#000" stroke-width="1.15"/>
<circle cx="941.5" cy="1001.2" r="5.8" fill="#fce4d6" fill-opacity="0.7" stroke="#000" stroke-width="1.15"/>
<circle cx="1184.0" cy="1031.5" r="5.8" fill="#fce4d6" fill-opacity="0.7" stroke="#000" stroke-width="1.15"/>
<circle cx="977.8" cy="1070.8" r="5.8" fill="#fce4d6" fill-opacity="0.7" stroke="#000" stroke-width="1.15"/>
<circle cx="935.8" cy="1097.2" r="5.8" fill="#fce4d6" fill-opacity="0.7" stroke="#000" stroke-width="1.15"/>
<circle cx="1050.2" cy="1096.2" r="5.8" fill="#fce4d6" fill-opacity="0.7" stroke="#000" stroke-width="1.15"/>
<circle cx="1113.8" cy="1086.2" r="5.8" fill="#fce4d6" fill-opacity="0.7" stroke="#000" stroke-width="1.15"/>
<circle cx="1147.0" cy="1095.5" r="5.8" fill="#fce4d6" fill-opacity="0.7" stroke="#000" stroke-width="1.15"/>
<circle cx="1272.8" cy="1087.8" r="5.8" fill="#fce4d6" fill-opacity="0.7" stroke="#000" stroke-width="1.15"/>
<circle cx="909.5" cy="1107.0" r="5.8" fill="#fce4d6" fill-opacity="0.7" stroke="#000" stroke-width="1.15"/>
<circle cx="1114.2" cy="1104.2" r="5.8" fill="#fce4d6" fill-opacity="0.7" stroke="#000" stroke-width="1.15"/>
<circle cx="958.9" cy="1158.1" r="6.9" fill="#7d1f27" fill-opacity="0.66" stroke="#000" stroke-width="1.15"/>
<circle cx="949.8" cy="1174.0" r="6.9" fill="#7d1f27" fill-opacity="0.66" stroke="#000" stroke-width="1.15"/>
<circle cx="893.1" cy="1176.4" r="6.9" fill="#7d1f27" fill-opacity="0.66" stroke="#000" stroke-width="1.15"/>
<circle cx="1065.2" cy="1153.4" r="6.9" fill="#7d1f27" fill-opacity="0.66" stroke="#000" stroke-width="1.15"/>
<circle cx="1059.5" cy="1169.6" r="6.9" fill="#7d1f27" fill-opacity="0.66" stroke="#000" stroke-width="1.15"/>
<circle cx="845.5" cy="1200.0" r="6.9" fill="#7d1f27" fill-opacity="0.66" stroke="#000" stroke-width="1.15"/>
<circle cx="930.2" cy="1198.1" r="6.9" fill="#7d1f27" fill-opacity="0.66" stroke="#000" stroke-width="1.15"/>
<circle cx="940.6" cy="1205.9" r="6.9" fill="#7d1f27" fill-opacity="0.66" stroke="#000" stroke-width="1.15"/>
<circle cx="930.4" cy="1220.8" r="6.9" fill="#7d1f27" fill-opacity="0.66" stroke="#000" stroke-width="1.15"/>
<circle cx="958.8" cy="1223.2" r="6.9" fill="#7d1f27" fill-opacity="0.66" stroke="#000" stroke-width="1.15"/>
<circle cx="927.0" cy="1231.6" r="6.9" fill="#7d1f27" fill-opacity="0.66" stroke="#000" stroke-width="1.15"/>
<circle cx="926.0" cy="1243.5" r="6.9" fill="#7d1f27" fill-opacity="0.66" stroke="#000" stroke-width="1.15"/>
<circle cx="995.2" cy="1234.0" r="6.9" fill="#7d1f27" fill-opacity="0.66" stroke="#000" stroke-width="1.15"/>
<circle cx="1030.4" cy="1226.6" r="6.9" fill="#7d1f27" fill-opacity="0.66" stroke="#000" stroke-width="1.15"/>
<circle cx="884.5" cy="1249.5" r="6.9" fill="#7d1f27" fill-opacity="0.66" stroke="#000" stroke-width="1.15"/>
<circle cx="1001.9" cy="1251.2" r="6.9" fill="#7d1f27" fill-opacity="0.66" stroke="#000" stroke-width="1.15"/>
<circle cx="1053.8" cy="1246.2" r="6.9" fill="#7d1f27" fill-opacity="0.66" stroke="#000" stroke-width="1.15"/>
<circle cx="1048.8" cy="1249.4" r="6.9" fill="#7d1f27" fill-opacity="0.66" stroke="#000" stroke-width="1.15"/>
<circle cx="1072.8" cy="1217.8" r="6.9" fill="#7d1f27" fill-opacity="0.66" stroke="#000" stroke-width="1.15"/>
<circle cx="897.5" cy="1261.2" r="6.9" fill="#7d1f27" fill-opacity="0.66" stroke="#000" stroke-width="1.15"/>
<circle cx="895.6" cy="1268.8" r="6.9" fill="#7d1f27" fill-opacity="0.66" stroke="#000" stroke-width="1.15"/>
<circle cx="872.6" cy="1271.2" r="6.9" fill="#7d1f27" fill-opacity="0.66" stroke="#000" stroke-width="1.15"/>
<circle cx="871.9" cy="1281.2" r="6.9" fill="#7d1f27" fill-opacity="0.66" stroke="#000" stroke-width="1.15"/>
<circle cx="885.8" cy="1279.2" r="6.9" fill="#7d1f27" fill-opacity="0.66" stroke="#000" stroke-width="1.15"/>
<circle cx="1000.0" cy="1266.9" r="6.9" fill="#7d1f27" fill-opacity="0.66" stroke="#000" stroke-width="1.15"/>
<circle cx="1001.9" cy="1271.5" r="6.9" fill="#7d1f27" fill-opacity="0.66" stroke="#000" stroke-width="1.15"/>
<circle cx="990.9" cy="1274.5" r="6.9" fill="#7d1f27" fill-opacity="0.66" stroke="#000" stroke-width="1.15"/>
<circle cx="965.0" cy="1277.2" r="6.9" fill="#7d1f27" fill-opacity="0.66" stroke="#000" stroke-width="1.15"/>
<circle cx="919.2" cy="1280.0" r="6.9" fill="#7d1f27" fill-opacity="0.66" stroke="#000" stroke-width="1.15"/>
<circle cx="1012.0" cy="1283.1" r="6.9" fill="#7d1f27" fill-opacity="0.66" stroke="#000" stroke-width="1.15"/>
<circle cx="929.4" cy="1289.0" r="6.9" fill="#7d1f27" fill-opacity="0.66" stroke="#000" stroke-width="1.15"/>
<circle cx="952.2" cy="1289.4" r="6.9" fill="#7d1f27" fill-opacity="0.66" stroke="#000" stroke-width="1.15"/>
<circle cx="944.9" cy="1137.4" r="6.9" fill="#d84a4e" fill-opacity="0.88" stroke="#000" stroke-width="1.15"/>
<circle cx="835.5" cy="1175.5" r="6.9" fill="#d84a4e" fill-opacity="0.88" stroke="#000" stroke-width="1.15"/>
<circle cx="945.0" cy="1185.2" r="6.9" fill="#d84a4e" fill-opacity="0.88" stroke="#000" stroke-width="1.15"/>
<circle cx="960.1" cy="1137.9" r="6.9" fill="#f2a46c" fill-opacity="0.85" stroke="#000" stroke-width="1.15"/>
<circle cx="931.9" cy="1165.6" r="6.9" fill="#f2a46c" fill-opacity="0.85" stroke="#000" stroke-width="1.15"/>
<circle cx="942.5" cy="1177.9" r="6.9" fill="#f2a46c" fill-opacity="0.85" stroke="#000" stroke-width="1.15"/>
<circle cx="917.5" cy="1206.5" r="6.9" fill="#f2a46c" fill-opacity="0.85" stroke="#000" stroke-width="1.15"/>
<circle cx="1032.5" cy="1232.5" r="6.9" fill="#f2a46c" fill-opacity="0.85" stroke="#000" stroke-width="1.15"/>
<circle cx="866.1" cy="1250.1" r="6.9" fill="#f2a46c" fill-opacity="0.85" stroke="#000" stroke-width="1.15"/>
<circle cx="1032.1" cy="1117.4" r="5.8" fill="#fce4d6" fill-opacity="0.7" stroke="#000" stroke-width="1.15"/>
<circle cx="1007.0" cy="1131.2" r="5.8" fill="#fce4d6" fill-opacity="0.7" stroke="#000" stroke-width="1.15"/>
<circle cx="1055.6" cy="1136.9" r="5.8" fill="#fce4d6" fill-opacity="0.7" stroke="#000" stroke-width="1.15"/>
<circle cx="1011.2" cy="1145.8" r="5.8" fill="#fce4d6" fill-opacity="0.7" stroke="#000" stroke-width="1.15"/>
<circle cx="994.1" cy="1152.4" r="5.8" fill="#fce4d6" fill-opacity="0.7" stroke="#000" stroke-width="1.15"/>
<circle cx="876.2" cy="1148.5" r="5.8" fill="#fce4d6" fill-opacity="0.7" stroke="#000" stroke-width="1.15"/>
<circle cx="906.9" cy="1143.5" r="5.8" fill="#fce4d6" fill-opacity="0.7" stroke="#000" stroke-width="1.15"/>
<circle cx="921.9" cy="1137.8" r="5.8" fill="#fce4d6" fill-opacity="0.7" stroke="#000" stroke-width="1.15"/>
<circle cx="925.4" cy="1142.1" r="5.8" fill="#fce4d6" fill-opacity="0.7" stroke="#000" stroke-width="1.15"/>
<circle cx="936.9" cy="1144.6" r="5.8" fill="#fce4d6" fill-opacity="0.7" stroke="#000" stroke-width="1.15"/>
<circle cx="940.0" cy="1149.8" r="5.8" fill="#fce4d6" fill-opacity="0.7" stroke="#000" stroke-width="1.15"/>
<circle cx="908.0" cy="1152.9" r="5.8" fill="#fce4d6" fill-opacity="0.7" stroke="#000" stroke-width="1.15"/>
<circle cx="908.5" cy="1159.1" r="5.8" fill="#fce4d6" fill-opacity="0.7" stroke="#000" stroke-width="1.15"/>
<circle cx="934.1" cy="1161.0" r="5.8" fill="#fce4d6" fill-opacity="0.7" stroke="#000" stroke-width="1.15"/>
<circle cx="1051.5" cy="1144.4" r="5.8" fill="#fce4d6" fill-opacity="0.7" stroke="#000" stroke-width="1.15"/>
<circle cx="1050.0" cy="1149.4" r="5.8" fill="#fce4d6" fill-opacity="0.7" stroke="#000" stroke-width="1.15"/>
<circle cx="1056.6" cy="1164.4" r="5.8" fill="#fce4d6" fill-opacity="0.7" stroke="#000" stroke-width="1.15"/>
<circle cx="868.5" cy="1174.8" r="5.8" fill="#fce4d6" fill-opacity="0.7" stroke="#000" stroke-width="1.15"/>
<circle cx="1030.4" cy="1180.2" r="5.8" fill="#fce4d6" fill-opacity="0.7" stroke="#000" stroke-width="1.15"/>
<circle cx="863.4" cy="1201.0" r="5.8" fill="#fce4d6" fill-opacity="0.7" stroke="#000" stroke-width="1.15"/>
<circle cx="1033.6" cy="1198.4" r="5.8" fill="#fce4d6" fill-opacity="0.7" stroke="#000" stroke-width="1.15"/>
<circle cx="1066.2" cy="1200.0" r="5.8" fill="#fce4d6" fill-opacity="0.7" stroke="#000" stroke-width="1.15"/>
<circle cx="944.4" cy="1216.5" r="5.8" fill="#fce4d6" fill-opacity="0.7" stroke="#000" stroke-width="1.15"/>
<circle cx="936.2" cy="1221.2" r="5.8" fill="#fce4d6" fill-opacity="0.7" stroke="#000" stroke-width="1.15"/>
<circle cx="967.9" cy="1219.2" r="5.8" fill="#fce4d6" fill-opacity="0.7" stroke="#000" stroke-width="1.15"/>
<circle cx="986.2" cy="1219.2" r="5.8" fill="#fce4d6" fill-opacity="0.7" stroke="#000" stroke-width="1.15"/>
<circle cx="865.4" cy="1228.5" r="5.8" fill="#fce4d6" fill-opacity="0.7" stroke="#000" stroke-width="1.15"/>
<circle cx="877.5" cy="1232.1" r="5.8" fill="#fce4d6" fill-opacity="0.7" stroke="#000" stroke-width="1.15"/>
<circle cx="957.2" cy="1237.4" r="5.8" fill="#fce4d6" fill-opacity="0.7" stroke="#000" stroke-width="1.15"/>
<circle cx="1065.6" cy="1228.1" r="5.8" fill="#fce4d6" fill-opacity="0.7" stroke="#000" stroke-width="1.15"/>
<circle cx="1063.1" cy="1239.6" r="5.8" fill="#fce4d6" fill-opacity="0.7" stroke="#000" stroke-width="1.15"/>
<circle cx="980.1" cy="1252.9" r="5.8" fill="#fce4d6" fill-opacity="0.7" stroke="#000" stroke-width="1.15"/>
<circle cx="1006.2" cy="1267.2" r="5.8" fill="#fce4d6" fill-opacity="0.7" stroke="#000" stroke-width="1.15"/>
<circle cx="1101.2" cy="1240.0" r="6.9" fill="#7d1f27" fill-opacity="0.66" stroke="#000" stroke-width="1.15"/>
<circle cx="1149.4" cy="1257.2" r="6.9" fill="#7d1f27" fill-opacity="0.66" stroke="#000" stroke-width="1.15"/>
<circle cx="1081.2" cy="1282.8" r="6.9" fill="#7d1f27" fill-opacity="0.66" stroke="#000" stroke-width="1.15"/>
<circle cx="1124.4" cy="1182.2" r="6.9" fill="#d84a4e" fill-opacity="0.88" stroke="#000" stroke-width="1.15"/>
<circle cx="1085.8" cy="1214.4" r="6.9" fill="#d84a4e" fill-opacity="0.88" stroke="#000" stroke-width="1.15"/>
<circle cx="1075.1" cy="1123.1" r="5.8" fill="#fce4d6" fill-opacity="0.7" stroke="#000" stroke-width="1.15"/>
<circle cx="1144.4" cy="1127.5" r="5.8" fill="#fce4d6" fill-opacity="0.7" stroke="#000" stroke-width="1.15"/>
<circle cx="1209.1" cy="1134.6" r="5.8" fill="#fce4d6" fill-opacity="0.7" stroke="#000" stroke-width="1.15"/>
<circle cx="1080.6" cy="1153.1" r="5.8" fill="#fce4d6" fill-opacity="0.7" stroke="#000" stroke-width="1.15"/>
<circle cx="1071.6" cy="1160.6" r="5.8" fill="#fce4d6" fill-opacity="0.7" stroke="#000" stroke-width="1.15"/>
<circle cx="1109.4" cy="1154.8" r="5.8" fill="#fce4d6" fill-opacity="0.7" stroke="#000" stroke-width="1.15"/>
<circle cx="1100.6" cy="1160.0" r="5.8" fill="#fce4d6" fill-opacity="0.7" stroke="#000" stroke-width="1.15"/>
<circle cx="1131.6" cy="1160.4" r="5.8" fill="#fce4d6" fill-opacity="0.7" stroke="#000" stroke-width="1.15"/>
<circle cx="1095.6" cy="1178.8" r="5.8" fill="#fce4d6" fill-opacity="0.7" stroke="#000" stroke-width="1.15"/>
<circle cx="1192.4" cy="1176.5" r="5.8" fill="#fce4d6" fill-opacity="0.7" stroke="#000" stroke-width="1.15"/>
<circle cx="1213.0" cy="1242.8" r="5.8" fill="#fce4d6" fill-opacity="0.7" stroke="#000" stroke-width="1.15"/>
<circle cx="920.0" cy="1293.1" r="6.9" fill="#7d1f27" fill-opacity="0.66" stroke="#000" stroke-width="1.15"/>
<circle cx="871.9" cy="1295.6" r="6.9" fill="#7d1f27" fill-opacity="0.66" stroke="#000" stroke-width="1.15"/>
<circle cx="881.2" cy="1295.0" r="6.9" fill="#7d1f27" fill-opacity="0.66" stroke="#000" stroke-width="1.15"/>
<circle cx="886.2" cy="1299.4" r="6.9" fill="#7d1f27" fill-opacity="0.66" stroke="#000" stroke-width="1.15"/>
<circle cx="906.2" cy="1296.2" r="6.9" fill="#7d1f27" fill-opacity="0.66" stroke="#000" stroke-width="1.15"/>
<circle cx="908.5" cy="1301.9" r="6.9" fill="#7d1f27" fill-opacity="0.66" stroke="#000" stroke-width="1.15"/>
<circle cx="863.4" cy="1303.5" r="6.9" fill="#7d1f27" fill-opacity="0.66" stroke="#000" stroke-width="1.15"/>
<circle cx="1005.0" cy="1291.9" r="6.9" fill="#7d1f27" fill-opacity="0.66" stroke="#000" stroke-width="1.15"/>
<circle cx="1004.0" cy="1294.8" r="6.9" fill="#7d1f27" fill-opacity="0.66" stroke="#000" stroke-width="1.15"/>
<circle cx="1041.1" cy="1295.9" r="6.9" fill="#7d1f27" fill-opacity="0.66" stroke="#000" stroke-width="1.15"/>
<circle cx="1031.0" cy="1304.2" r="6.9" fill="#7d1f27" fill-opacity="0.66" stroke="#000" stroke-width="1.15"/>
<circle cx="879.0" cy="1318.0" r="6.9" fill="#7d1f27" fill-opacity="0.66" stroke="#000" stroke-width="1.15"/>
<circle cx="921.0" cy="1326.2" r="6.9" fill="#7d1f27" fill-opacity="0.66" stroke="#000" stroke-width="1.15"/>
<circle cx="1018.5" cy="1328.6" r="6.9" fill="#7d1f27" fill-opacity="0.66" stroke="#000" stroke-width="1.15"/>
<circle cx="1032.8" cy="1331.4" r="6.9" fill="#7d1f27" fill-opacity="0.66" stroke="#000" stroke-width="1.15"/>
<circle cx="947.6" cy="1352.5" r="6.9" fill="#7d1f27" fill-opacity="0.66" stroke="#000" stroke-width="1.15"/>
<path d="M834.7 1243.5L1274 1121" stroke="#000" stroke-width="2.6" stroke-dasharray="8.9 8.298" fill="none"/>
<circle cx="1156.1" cy="1186.0" r="6.6" fill="#f9cdb0" fill-opacity="1.0" stroke="#000" stroke-width="1.9"/>
<text x="813" y="1379" font-size="25.6" text-anchor="start">Pearson R = 0.327</text>
<text x="813" y="1407.2" font-size="25.6" text-anchor="start"><tspan font-style="italic">P</tspan> = 2.5x10<tspan font-size="16.5" dy="-7.4" dx="0.6">-4</tspan></text>
</g>
<g>
<path d="M1463.5 140.5H1982.5" fill="none" stroke="#444" stroke-width="1.0"/>
<path d="M1982.5 140.5V751.9" fill="none" stroke="#444" stroke-width="1.0"/>
<text x="1441.7" y="760.3" font-size="25.8" text-anchor="end">0</text>
<text x="1441.7" y="692.37" font-size="25.8" text-anchor="end">0.1</text>
<text x="1441.7" y="624.43" font-size="25.8" text-anchor="end">0.2</text>
<text x="1441.7" y="556.5" font-size="25.8" text-anchor="end">0.3</text>
<text x="1441.7" y="488.57" font-size="25.8" text-anchor="end">0.4</text>
<text x="1441.7" y="420.63" font-size="25.8" text-anchor="end">0.5</text>
<text x="1441.7" y="352.7" font-size="25.8" text-anchor="end">0.6</text>
<text x="1441.7" y="284.77" font-size="25.8" text-anchor="end">0.7</text>
<text x="1441.7" y="216.83" font-size="25.8" text-anchor="end">0.8</text>
<text x="1441.7" y="148.9" font-size="25.8" text-anchor="end">0.9</text>
<text x="1463.5" y="790.7" font-size="25.8" text-anchor="middle">-2.5</text>
<text x="1593.25" y="790.7" font-size="25.8" text-anchor="middle">-1.5</text>
<text x="1723.0" y="790.7" font-size="25.8" text-anchor="middle">-0.5</text>
<text x="1852.75" y="790.7" font-size="25.8" text-anchor="middle">0.5</text>
<text x="1982.5" y="790.7" font-size="25.8" text-anchor="middle">1.5</text>
<path d="M1456.0 751.90H1463.5M1456.0 683.97H1463.5M1456.0 616.03H1463.5M1456.0 548.10H1463.5M1456.0 480.17H1463.5M1456.0 412.23H1463.5M1456.0 344.30H1463.5M1456.0 276.37H1463.5M1456.0 208.43H1463.5M1456.0 140.50H1463.5" fill="none" stroke="#444" stroke-width="1"/>
<path d="M1463.50 751.9V759.6999999999999M1593.25 751.9V759.6999999999999M1723.00 751.9V759.6999999999999M1852.75 751.9V759.6999999999999M1982.50 751.9V759.6999999999999" fill="none" stroke="#707070" stroke-width="1"/>
<path d="M1463.5 140.5V759.6999999999999" fill="none" stroke="#444" stroke-width="1.0"/>
<path d="M1456.0 751.9H1982.5" fill="none" stroke="#707070" stroke-width="1.3"/>
<text x="1719.7" y="824" font-size="25.6" text-anchor="middle">Social disadvantage (SD) score</text>
<text x="1385.8" y="425.6" font-size="25.6" text-anchor="middle" transform="rotate(-90 1385.8 425.6)">Mother:Child Unifrac distance (unweighted)</text>
<circle cx="1524.9" cy="218.4" r="6.9" fill="#7d1f27" fill-opacity="0.66" stroke="#000" stroke-width="1.15"/>
<circle cx="1569.0" cy="236.2" r="6.9" fill="#7d1f27" fill-opacity="0.66" stroke="#000" stroke-width="1.15"/>
<circle cx="1579.5" cy="249.1" r="6.9" fill="#7d1f27" fill-opacity="0.66" stroke="#000" stroke-width="1.15"/>
<circle cx="1602.8" cy="250.0" r="6.9" fill="#7d1f27" fill-opacity="0.66" stroke="#000" stroke-width="1.15"/>
<circle cx="1617.8" cy="250.8" r="6.9" fill="#7d1f27" fill-opacity="0.66" stroke="#000" stroke-width="1.15"/>
<circle cx="1550.6" cy="262.9" r="6.9" fill="#7d1f27" fill-opacity="0.66" stroke="#000" stroke-width="1.15"/>
<circle cx="1621.6" cy="266.2" r="6.9" fill="#7d1f27" fill-opacity="0.66" stroke="#000" stroke-width="1.15"/>
<circle cx="1625.0" cy="268.8" r="6.9" fill="#7d1f27" fill-opacity="0.66" stroke="#000" stroke-width="1.15"/>
<circle cx="1541.6" cy="283.1" r="6.9" fill="#7d1f27" fill-opacity="0.66" stroke="#000" stroke-width="1.15"/>
<circle cx="1542.1" cy="284.5" r="6.9" fill="#7d1f27" fill-opacity="0.66" stroke="#000" stroke-width="1.15"/>
<circle cx="1611.2" cy="279.8" r="6.9" fill="#7d1f27" fill-opacity="0.66" stroke="#000" stroke-width="1.15"/>
<circle cx="1570.2" cy="291.0" r="6.9" fill="#7d1f27" fill-opacity="0.66" stroke="#000" stroke-width="1.15"/>
<circle cx="1585.0" cy="291.5" r="6.9" fill="#7d1f27" fill-opacity="0.66" stroke="#000" stroke-width="1.15"/>
<circle cx="1686.5" cy="277.8" r="6.9" fill="#7d1f27" fill-opacity="0.66" stroke="#000" stroke-width="1.15"/>
<circle cx="1695.2" cy="278.6" r="6.9" fill="#7d1f27" fill-opacity="0.66" stroke="#000" stroke-width="1.15"/>
<circle cx="1651.9" cy="286.2" r="6.9" fill="#7d1f27" fill-opacity="0.66" stroke="#000" stroke-width="1.15"/>
<circle cx="1684.0" cy="289.4" r="6.9" fill="#7d1f27" fill-opacity="0.66" stroke="#000" stroke-width="1.15"/>
<circle cx="1700.9" cy="294.4" r="6.9" fill="#7d1f27" fill-opacity="0.66" stroke="#000" stroke-width="1.15"/>
<circle cx="1683.8" cy="301.2" r="6.9" fill="#7d1f27" fill-opacity="0.66" stroke="#000" stroke-width="1.15"/>
<circle cx="1666.2" cy="306.5" r="6.9" fill="#7d1f27" fill-opacity="0.66" stroke="#000" stroke-width="1.15"/>
<circle cx="1669.1" cy="306.9" r="6.9" fill="#7d1f27" fill-opacity="0.66" stroke="#000" stroke-width="1.15"/>
<circle cx="1676.2" cy="306.5" r="6.9" fill="#7d1f27" fill-opacity="0.66" stroke="#000" stroke-width="1.15"/>
<circle cx="1556.5" cy="308.4" r="6.9" fill="#7d1f27" fill-opacity="0.66" stroke="#000" stroke-width="1.15"/>
<circle cx="1565.0" cy="313.1" r="6.9" fill="#7d1f27" fill-opacity="0.66" stroke="#000" stroke-width="1.15"/>
<circle cx="1618.1" cy="317.2" r="6.9" fill="#7d1f27" fill-opacity="0.66" stroke="#000" stroke-width="1.15"/>
<circle cx="1716.2" cy="320.4" r="6.9" fill="#7d1f27" fill-opacity="0.66" stroke="#000" stroke-width="1.15"/>
<circle cx="1679.0" cy="329.9" r="6.9" fill="#7d1f27" fill-opacity="0.66" stroke="#000" stroke-width="1.15"/>
<circle cx="1555.0" cy="347.1" r="6.9" fill="#7d1f27" fill-opacity="0.66" stroke="#000" stroke-width="1.15"/>
<circle cx="1630.4" cy="346.9" r="6.9" fill="#7d1f27" fill-opacity="0.66" stroke="#000" stroke-width="1.15"/>
<circle cx="1676.0" cy="353.5" r="6.9" fill="#7d1f27" fill-opacity="0.66" stroke="#000" stroke-width="1.15"/>
<circle cx="1498.5" cy="365.5" r="6.9" fill="#7d1f27" fill-opacity="0.66" stroke="#000" stroke-width="1.15"/>
<circle cx="1602.5" cy="366.9" r="6.9" fill="#7d1f27" fill-opacity="0.66" stroke="#000" stroke-width="1.15"/>
<circle cx="1547.2" cy="272.5" r="6.9" fill="#f2a46c" fill-opacity="0.85" stroke="#000" stroke-width="1.15"/>
<circle cx="1508.6" cy="379.0" r="6.9" fill="#d84a4e" fill-opacity="0.88" stroke="#000" stroke-width="1.15"/>
<circle cx="1577.5" cy="291.5" r="5.8" fill="#fce4d6" fill-opacity="0.7" stroke="#000" stroke-width="1.15"/>
<circle cx="1655.0" cy="283.1" r="5.8" fill="#fce4d6" fill-opacity="0.7" stroke="#000" stroke-width="1.15"/>
<circle cx="1615.4" cy="293.2" r="5.8" fill="#fce4d6" fill-opacity="0.7" stroke="#000" stroke-width="1.15"/>
<circle cx="1615.9" cy="309.0" r="5.8" fill="#fce4d6" fill-opacity="0.7" stroke="#000" stroke-width="1.15"/>
<circle cx="1552.5" cy="343.4" r="5.8" fill="#fce4d6" fill-opacity="0.7" stroke="#000" stroke-width="1.15"/>
<circle cx="1575.6" cy="344.4" r="5.8" fill="#fce4d6" fill-opacity="0.7" stroke="#000" stroke-width="1.15"/>
<circle cx="1657.6" cy="332.6" r="5.8" fill="#fce4d6" fill-opacity="0.7" stroke="#000" stroke-width="1.15"/>
<circle cx="1668.2" cy="339.5" r="5.8" fill="#fce4d6" fill-opacity="0.7" stroke="#000" stroke-width="1.15"/>
<circle cx="1841.6" cy="234.8" r="6.9" fill="#7d1f27" fill-opacity="0.66" stroke="#000" stroke-width="1.15"/>
<circle cx="1892.9" cy="226.9" r="6.9" fill="#7d1f27" fill-opacity="0.66" stroke="#000" stroke-width="1.15"/>
<circle cx="1928.1" cy="225.1" r="6.9" fill="#7d1f27" fill-opacity="0.66" stroke="#000" stroke-width="1.15"/>
<circle cx="1750.5" cy="265.9" r="6.9" fill="#7d1f27" fill-opacity="0.66" stroke="#000" stroke-width="1.15"/>
<circle cx="1766.8" cy="269.8" r="6.9" fill="#7d1f27" fill-opacity="0.66" stroke="#000" stroke-width="1.15"/>
<circle cx="1743.8" cy="293.8" r="6.9" fill="#7d1f27" fill-opacity="0.66" stroke="#000" stroke-width="1.15"/>
<circle cx="1821.4" cy="294.8" r="6.9" fill="#7d1f27" fill-opacity="0.66" stroke="#000" stroke-width="1.15"/>
<circle cx="1878.6" cy="306.9" r="6.9" fill="#7d1f27" fill-opacity="0.66" stroke="#000" stroke-width="1.15"/>
<circle cx="1811.4" cy="326.0" r="6.9" fill="#7d1f27" fill-opacity="0.66" stroke="#000" stroke-width="1.15"/>
<circle cx="1758.8" cy="341.0" r="6.9" fill="#7d1f27" fill-opacity="0.66" stroke="#000" stroke-width="1.15"/>
<circle cx="1794.0" cy="377.2" r="6.9" fill="#7d1f27" fill-opacity="0.66" stroke="#000" stroke-width="1.15"/>
<circle cx="1901.9" cy="376.5" r="6.9" fill="#7d1f27" fill-opacity="0.66" stroke="#000" stroke-width="1.15"/>
<circle cx="1767.9" cy="395.1" r="6.9" fill="#7d1f27" fill-opacity="0.66" stroke="#000" stroke-width="1.15"/>
<circle cx="1879.5" cy="294.1" r="6.9" fill="#d84a4e" fill-opacity="0.88" stroke="#000" stroke-width="1.15"/>
<circle cx="1854.5" cy="342.5" r="6.9" fill="#d84a4e" fill-opacity="0.88" stroke="#000" stroke-width="1.15"/>
<circle cx="1845.9" cy="378.5" r="6.9" fill="#f2a46c" fill-opacity="0.85" stroke="#000" stroke-width="1.15"/>
<circle cx="1830.9" cy="275.9" r="5.8" fill="#fce4d6" fill-opacity="0.7" stroke="#000" stroke-width="1.15"/>
<circle cx="1860.5" cy="305.4" r="5.8" fill="#fce4d6" fill-opacity="0.7" stroke="#000" stroke-width="1.15"/>
<circle cx="1887.0" cy="303.8" r="5.8" fill="#fce4d6" fill-opacity="0.7" stroke="#000" stroke-width="1.15"/>
<circle cx="1918.6" cy="321.5" r="5.8" fill="#fce4d6" fill-opacity="0.7" stroke="#000" stroke-width="1.15"/>
<circle cx="1732.1" cy="337.5" r="5.8" fill="#fce4d6" fill-opacity="0.7" stroke="#000" stroke-width="1.15"/>
<circle cx="1953.8" cy="337.6" r="5.8" fill="#fce4d6" fill-opacity="0.7" stroke="#000" stroke-width="1.15"/>
<circle cx="1923.1" cy="345.5" r="5.8" fill="#fce4d6" fill-opacity="0.7" stroke="#000" stroke-width="1.15"/>
<circle cx="1951.0" cy="358.4" r="5.8" fill="#fce4d6" fill-opacity="0.7" stroke="#000" stroke-width="1.15"/>
<circle cx="1850.0" cy="353.8" r="5.8" fill="#fce4d6" fill-opacity="0.7" stroke="#000" stroke-width="1.15"/>
<circle cx="1842.1" cy="360.6" r="5.8" fill="#fce4d6" fill-opacity="0.7" stroke="#000" stroke-width="1.15"/>
<circle cx="1880.0" cy="360.6" r="5.8" fill="#fce4d6" fill-opacity="0.7" stroke="#000" stroke-width="1.15"/>
<circle cx="1880.6" cy="365.0" r="5.8" fill="#fce4d6" fill-opacity="0.7" stroke="#000" stroke-width="1.15"/>
<circle cx="1862.9" cy="370.4" r="5.8" fill="#fce4d6" fill-opacity="0.7" stroke="#000" stroke-width="1.15"/>
<circle cx="1873.8" cy="372.5" r="5.8" fill="#fce4d6" fill-opacity="0.7" stroke="#000" stroke-width="1.15"/>
<circle cx="1878.5" cy="372.5" r="5.8" fill="#fce4d6" fill-opacity="0.7" stroke="#000" stroke-width="1.15"/>
<circle cx="1870.9" cy="376.9" r="5.8" fill="#fce4d6" fill-opacity="0.7" stroke="#000" stroke-width="1.15"/>
<circle cx="1895.6" cy="378.1" r="5.8" fill="#fce4d6" fill-opacity="0.7" stroke="#000" stroke-width="1.15"/>
<circle cx="1768.8" cy="375.6" r="5.8" fill="#fce4d6" fill-opacity="0.7" stroke="#000" stroke-width="1.15"/>
<circle cx="1752.1" cy="393.9" r="5.8" fill="#fce4d6" fill-opacity="0.7" stroke="#000" stroke-width="1.15"/>
<circle cx="1869.4" cy="392.1" r="5.8" fill="#fce4d6" fill-opacity="0.7" stroke="#000" stroke-width="1.15"/>
<circle cx="1876.2" cy="396.0" r="5.8" fill="#fce4d6" fill-opacity="0.7" stroke="#000" stroke-width="1.15"/>
<circle cx="1871.2" cy="398.1" r="5.8" fill="#fce4d6" fill-opacity="0.7" stroke="#000" stroke-width="1.15"/>
<circle cx="1952.2" cy="431.9" r="6.9" fill="#7d1f27" fill-opacity="0.66" stroke="#000" stroke-width="1.15"/>
<circle cx="1790.1" cy="482.1" r="6.9" fill="#7d1f27" fill-opacity="0.66" stroke="#000" stroke-width="1.15"/>
<circle cx="1834.8" cy="498.8" r="6.9" fill="#7d1f27" fill-opacity="0.66" stroke="#000" stroke-width="1.15"/>
<circle cx="1866.8" cy="498.1" r="6.9" fill="#7d1f27" fill-opacity="0.66" stroke="#000" stroke-width="1.15"/>
<circle cx="1849.4" cy="485.2" r="6.9" fill="#d84a4e" fill-opacity="0.88" stroke="#000" stroke-width="1.15"/>
<circle cx="1939.4" cy="519.4" r="6.9" fill="#d84a4e" fill-opacity="0.88" stroke="#000" stroke-width="1.15"/>
<circle cx="1883.5" cy="444.1" r="6.9" fill="#f2a46c" fill-opacity="0.85" stroke="#000" stroke-width="1.15"/>
<circle cx="1846.0" cy="528.2" r="6.9" fill="#f2a46c" fill-opacity="0.85" stroke="#000" stroke-width="1.15"/>
<circle cx="1883.8" cy="410.0" r="5.8" fill="#fce4d6" fill-opacity="0.7" stroke="#000" stroke-width="1.15"/>
<circle cx="1914.4" cy="419.0" r="5.8" fill="#fce4d6" fill-opacity="0.7" stroke="#000" stroke-width="1.15"/>
<circle cx="1937.5" cy="429.1" r="5.8" fill="#fce4d6" fill-opacity="0.7" stroke="#000" stroke-width="1.15"/>
<circle cx="1820.8" cy="425.1" r="5.8" fill="#fce4d6" fill-opacity="0.7" stroke="#000" stroke-width="1.15"/>
<circle cx="1837.5" cy="423.4" r="5.8" fill="#fce4d6" fill-opacity="0.7" stroke="#000" stroke-width="1.15"/>
<circle cx="1792.5" cy="443.0" r="5.8" fill="#fce4d6" fill-opacity="0.7" stroke="#000" stroke-width="1.15"/>
<circle cx="1838.6" cy="439.6" r="5.8" fill="#fce4d6" fill-opacity="0.7" stroke="#000" stroke-width="1.15"/>
<circle cx="1827.0" cy="451.8" r="5.8" fill="#fce4d6" fill-opacity="0.7" stroke="#000" stroke-width="1.15"/>
<circle cx="1869.6" cy="446.5" r="5.8" fill="#fce4d6" fill-opacity="0.7" stroke="#000" stroke-width="1.15"/>
<circle cx="1868.8" cy="453.1" r="5.8" fill="#fce4d6" fill-opacity="0.7" stroke="#000" stroke-width="1.15"/>
<circle cx="1870.0" cy="459.6" r="5.8" fill="#fce4d6" fill-opacity="0.7" stroke="#000" stroke-width="1.15"/>
<circle cx="1889.0" cy="462.4" r="5.8" fill="#fce4d6" fill-opacity="0.7" stroke="#000" stroke-width="1.15"/>
<circle cx="1917.5" cy="461.1" r="5.8" fill="#fce4d6" fill-opacity="0.7" stroke="#000" stroke-width="1.15"/>
<circle cx="1913.1" cy="469.2" r="5.8" fill="#fce4d6" fill-opacity="0.7" stroke="#000" stroke-width="1.15"/>
<circle cx="1899.0" cy="472.2" r="5.8" fill="#fce4d6" fill-opacity="0.7" stroke="#000" stroke-width="1.15"/>
<circle cx="1866.5" cy="472.5" r="5.8" fill="#fce4d6" fill-opacity="0.7" stroke="#000" stroke-width="1.15"/>
<circle cx="1942.1" cy="478.4" r="5.8" fill="#fce4d6" fill-opacity="0.7" stroke="#000" stroke-width="1.15"/>
<circle cx="1770.5" cy="482.5" r="5.8" fill="#fce4d6" fill-opacity="0.7" stroke="#000" stroke-width="1.15"/>
<circle cx="1834.4" cy="502.1" r="5.8" fill="#fce4d6" fill-opacity="0.7" stroke="#000" stroke-width="1.15"/>
<circle cx="1855.0" cy="506.9" r="5.8" fill="#fce4d6" fill-opacity="0.7" stroke="#000" stroke-width="1.15"/>
<circle cx="1852.5" cy="510.0" r="5.8" fill="#fce4d6" fill-opacity="0.7" stroke="#000" stroke-width="1.15"/>
<circle cx="1871.2" cy="596.5" r="5.8" fill="#fce4d6" fill-opacity="0.7" stroke="#000" stroke-width="1.15"/>
<circle cx="1660.0" cy="438.5" r="6.9" fill="#7d1f27" fill-opacity="0.66" stroke="#000" stroke-width="1.15"/>
<circle cx="1603.5" cy="482.1" r="6.9" fill="#7d1f27" fill-opacity="0.66" stroke="#000" stroke-width="1.15"/>
<circle cx="1681.2" cy="432.5" r="6.9" fill="#d84a4e" fill-opacity="0.88" stroke="#000" stroke-width="1.15"/>
<circle cx="1622.6" cy="477.0" r="6.9" fill="#d84a4e" fill-opacity="0.88" stroke="#000" stroke-width="1.15"/>
<circle cx="1656.6" cy="417.2" r="6.9" fill="#f2a46c" fill-opacity="0.85" stroke="#000" stroke-width="1.15"/>
<circle cx="1722.0" cy="425.9" r="6.9" fill="#f2a46c" fill-opacity="0.85" stroke="#000" stroke-width="1.15"/>
<circle cx="1573.4" cy="430.9" r="5.8" fill="#fce4d6" fill-opacity="0.7" stroke="#000" stroke-width="1.15"/>
<circle cx="1579.6" cy="426.4" r="5.8" fill="#fce4d6" fill-opacity="0.7" stroke="#000" stroke-width="1.15"/>
<circle cx="1703.5" cy="504.9" r="5.8" fill="#fce4d6" fill-opacity="0.7" stroke="#000" stroke-width="1.15"/>
<path d="M1497.8 296.2L1955.2 427.5" stroke="#000" stroke-width="2.35" stroke-dasharray="8.9 8.395" fill="none"/>
<circle cx="1933.1" cy="411.0" r="6.6" fill="#f9cdb0" fill-opacity="1.0" stroke="#000" stroke-width="1.9"/>
<text x="1967" y="701" font-size="25.6" text-anchor="end">Pearson R = -0.438</text>
<text x="1967" y="730.4" font-size="25.6" text-anchor="end"><tspan font-style="italic">P</tspan> = 5.0x10<tspan font-size="16.5" dy="-7.4" dx="0.6">-7</tspan></text>
</g>
<g>
<path d="M1469.5 849.8H1987.7" fill="none" stroke="#707070" stroke-width="1.3"/>
<path d="M1987.7 849.8V1434.75" fill="none" stroke="#707070" stroke-width="1.3"/>
<text x="1447.7" y="1443.15" font-size="25.8" text-anchor="end">0</text>
<text x="1447.7" y="1378.16" font-size="25.8" text-anchor="end">0.1</text>
<text x="1447.7" y="1313.16" font-size="25.8" text-anchor="end">0.2</text>
<text x="1447.7" y="1248.17" font-size="25.8" text-anchor="end">0.3</text>
<text x="1447.7" y="1183.17" font-size="25.8" text-anchor="end">0.4</text>
<text x="1447.7" y="1118.18" font-size="25.8" text-anchor="end">0.5</text>
<text x="1447.7" y="1053.18" font-size="25.8" text-anchor="end">0.6</text>
<text x="1447.7" y="988.19" font-size="25.8" text-anchor="end">0.7</text>
<text x="1447.7" y="923.19" font-size="25.8" text-anchor="end">0.8</text>
<text x="1447.7" y="858.2" font-size="25.8" text-anchor="end">0.9</text>
<text x="1469.5" y="1473.55" font-size="25.8" text-anchor="middle">-2</text>
<text x="1573.14" y="1473.55" font-size="25.8" text-anchor="middle">-1</text>
<text x="1676.78" y="1473.55" font-size="25.8" text-anchor="middle">0</text>
<text x="1780.42" y="1473.55" font-size="25.8" text-anchor="middle">1</text>
<text x="1884.06" y="1473.55" font-size="25.8" text-anchor="middle">2</text>
<text x="1987.7" y="1473.55" font-size="25.8" text-anchor="middle">3</text>
<path d="M1462.0 1434.75H1469.5M1462.0 1369.76H1469.5M1462.0 1304.76H1469.5M1462.0 1239.77H1469.5M1462.0 1174.77H1469.5M1462.0 1109.78H1469.5M1462.0 1044.78H1469.5M1462.0 979.79H1469.5M1462.0 914.79H1469.5M1462.0 849.80H1469.5" fill="none" stroke="#3a3a3a" stroke-width="1"/>
<path d="M1469.50 1434.75V1442.55M1573.14 1434.75V1442.55M1676.78 1434.75V1442.55M1780.42 1434.75V1442.55M1884.06 1434.75V1442.55M1987.70 1434.75V1442.55" fill="none" stroke="#707070" stroke-width="1"/>
<path d="M1469.5 849.8V1442.55" fill="none" stroke="#3a3a3a" stroke-width="1.0"/>
<path d="M1462.0 1434.75H1987.7" fill="none" stroke="#707070" stroke-width="1.3"/>
<text x="1731.6" y="1509" font-size="25.6" text-anchor="middle">Psychosocial stressors (PS) score</text>
<text x="1387.4" y="1124" font-size="25.6" text-anchor="middle" transform="rotate(-90 1387.4 1124)">Mother:Child Unifrac distance (weighted)</text>
<circle cx="1529.9" cy="924.2" r="6.9" fill="#7d1f27" fill-opacity="0.66" stroke="#000" stroke-width="1.15"/>
<circle cx="1592.0" cy="932.6" r="6.9" fill="#7d1f27" fill-opacity="0.66" stroke="#000" stroke-width="1.15"/>
<circle cx="1594.4" cy="941.2" r="6.9" fill="#7d1f27" fill-opacity="0.66" stroke="#000" stroke-width="1.15"/>
<circle cx="1664.6" cy="930.9" r="6.9" fill="#7d1f27" fill-opacity="0.66" stroke="#000" stroke-width="1.15"/>
<circle cx="1711.0" cy="939.9" r="6.9" fill="#7d1f27" fill-opacity="0.66" stroke="#000" stroke-width="1.15"/>
<circle cx="1545.6" cy="953.8" r="6.9" fill="#7d1f27" fill-opacity="0.66" stroke="#000" stroke-width="1.15"/>
<circle cx="1585.8" cy="955.6" r="6.9" fill="#7d1f27" fill-opacity="0.66" stroke="#000" stroke-width="1.15"/>
<circle cx="1694.0" cy="954.8" r="6.9" fill="#7d1f27" fill-opacity="0.66" stroke="#000" stroke-width="1.15"/>
<circle cx="1551.8" cy="967.2" r="6.9" fill="#7d1f27" fill-opacity="0.66" stroke="#000" stroke-width="1.15"/>
<circle cx="1597.0" cy="970.0" r="6.9" fill="#7d1f27" fill-opacity="0.66" stroke="#000" stroke-width="1.15"/>
<circle cx="1693.1" cy="970.5" r="6.9" fill="#7d1f27" fill-opacity="0.66" stroke="#000" stroke-width="1.15"/>
<circle cx="1666.5" cy="972.1" r="6.9" fill="#7d1f27" fill-opacity="0.66" stroke="#000" stroke-width="1.15"/>
<circle cx="1674.0" cy="973.1" r="6.9" fill="#7d1f27" fill-opacity="0.66" stroke="#000" stroke-width="1.15"/>
<circle cx="1663.1" cy="982.5" r="6.9" fill="#7d1f27" fill-opacity="0.66" stroke="#000" stroke-width="1.15"/>
<circle cx="1668.1" cy="983.1" r="6.9" fill="#7d1f27" fill-opacity="0.66" stroke="#000" stroke-width="1.15"/>
<circle cx="1547.8" cy="981.9" r="6.9" fill="#7d1f27" fill-opacity="0.66" stroke="#000" stroke-width="1.15"/>
<circle cx="1538.8" cy="986.9" r="6.9" fill="#7d1f27" fill-opacity="0.66" stroke="#000" stroke-width="1.15"/>
<circle cx="1539.5" cy="996.2" r="6.9" fill="#7d1f27" fill-opacity="0.66" stroke="#000" stroke-width="1.15"/>
<circle cx="1574.0" cy="985.4" r="6.9" fill="#7d1f27" fill-opacity="0.66" stroke="#000" stroke-width="1.15"/>
<circle cx="1562.9" cy="993.2" r="6.9" fill="#7d1f27" fill-opacity="0.66" stroke="#000" stroke-width="1.15"/>
<circle cx="1584.5" cy="994.5" r="6.9" fill="#7d1f27" fill-opacity="0.66" stroke="#000" stroke-width="1.15"/>
<circle cx="1591.0" cy="992.2" r="6.9" fill="#7d1f27" fill-opacity="0.66" stroke="#000" stroke-width="1.15"/>
<circle cx="1612.8" cy="989.0" r="6.9" fill="#7d1f27" fill-opacity="0.66" stroke="#000" stroke-width="1.15"/>
<circle cx="1628.8" cy="997.2" r="6.9" fill="#7d1f27" fill-opacity="0.66" stroke="#000" stroke-width="1.15"/>
<circle cx="1654.4" cy="997.2" r="6.9" fill="#7d1f27" fill-opacity="0.66" stroke="#000" stroke-width="1.15"/>
<circle cx="1512.5" cy="1009.1" r="6.9" fill="#7d1f27" fill-opacity="0.66" stroke="#000" stroke-width="1.15"/>
<circle cx="1552.8" cy="1015.0" r="6.9" fill="#7d1f27" fill-opacity="0.66" stroke="#000" stroke-width="1.15"/>
<circle cx="1595.0" cy="1011.2" r="6.9" fill="#7d1f27" fill-opacity="0.66" stroke="#000" stroke-width="1.15"/>
<circle cx="1613.8" cy="1009.0" r="6.9" fill="#7d1f27" fill-opacity="0.66" stroke="#000" stroke-width="1.15"/>
<circle cx="1604.8" cy="1019.1" r="6.9" fill="#7d1f27" fill-opacity="0.66" stroke="#000" stroke-width="1.15"/>
<circle cx="1680.5" cy="1008.2" r="6.9" fill="#7d1f27" fill-opacity="0.66" stroke="#000" stroke-width="1.15"/>
<circle cx="1691.5" cy="1008.4" r="6.9" fill="#7d1f27" fill-opacity="0.66" stroke="#000" stroke-width="1.15"/>
<circle cx="1715.4" cy="1003.4" r="6.9" fill="#7d1f27" fill-opacity="0.66" stroke="#000" stroke-width="1.15"/>
<circle cx="1657.9" cy="1021.6" r="6.9" fill="#7d1f27" fill-opacity="0.66" stroke="#000" stroke-width="1.15"/>
<circle cx="1550.6" cy="1031.2" r="6.9" fill="#7d1f27" fill-opacity="0.66" stroke="#000" stroke-width="1.15"/>
<circle cx="1720.4" cy="1027.2" r="6.9" fill="#7d1f27" fill-opacity="0.66" stroke="#000" stroke-width="1.15"/>
<circle cx="1571.8" cy="1046.6" r="6.9" fill="#7d1f27" fill-opacity="0.66" stroke="#000" stroke-width="1.15"/>
<circle cx="1585.8" cy="1047.2" r="6.9" fill="#7d1f27" fill-opacity="0.66" stroke="#000" stroke-width="1.15"/>
<circle cx="1616.9" cy="1041.9" r="6.9" fill="#7d1f27" fill-opacity="0.66" stroke="#000" stroke-width="1.15"/>
<circle cx="1538.8" cy="1066.2" r="6.9" fill="#7d1f27" fill-opacity="0.66" stroke="#000" stroke-width="1.15"/>
<circle cx="1561.2" cy="1065.1" r="6.9" fill="#7d1f27" fill-opacity="0.66" stroke="#000" stroke-width="1.15"/>
<circle cx="1559.1" cy="1076.2" r="6.9" fill="#7d1f27" fill-opacity="0.66" stroke="#000" stroke-width="1.15"/>
<circle cx="1623.2" cy="1076.0" r="6.9" fill="#7d1f27" fill-opacity="0.66" stroke="#000" stroke-width="1.15"/>
<circle cx="1733.8" cy="1093.8" r="6.9" fill="#7d1f27" fill-opacity="0.66" stroke="#000" stroke-width="1.15"/>
<circle cx="1533.2" cy="976.0" r="6.9" fill="#f2a46c" fill-opacity="0.85" stroke="#000" stroke-width="1.15"/>
<circle cx="1694.2" cy="1078.1" r="6.9" fill="#f2a46c" fill-opacity="0.85" stroke="#000" stroke-width="1.15"/>
<circle cx="1712.5" cy="1078.1" r="6.9" fill="#d84a4e" fill-opacity="0.88" stroke="#000" stroke-width="1.15"/>
<circle cx="1608.8" cy="1044.4" r="6.9" fill="#d84a4e" fill-opacity="0.88" stroke="#000" stroke-width="1.15"/>
<circle cx="1691.6" cy="979.6" r="5.8" fill="#fce4d6" fill-opacity="0.7" stroke="#000" stroke-width="1.15"/>
<circle cx="1600.8" cy="986.5" r="5.8" fill="#fce4d6" fill-opacity="0.7" stroke="#000" stroke-width="1.15"/>
<circle cx="1604.1" cy="994.0" r="5.8" fill="#fce4d6" fill-opacity="0.7" stroke="#000" stroke-width="1.15"/>
<circle cx="1631.6" cy="995.6" r="5.8" fill="#fce4d6" fill-opacity="0.7" stroke="#000" stroke-width="1.15"/>
<circle cx="1532.1" cy="1011.1" r="5.8" fill="#fce4d6" fill-opacity="0.7" stroke="#000" stroke-width="1.15"/>
<circle cx="1670.0" cy="1006.2" r="5.8" fill="#fce4d6" fill-opacity="0.7" stroke="#000" stroke-width="1.15"/>
<circle cx="1695.0" cy="1007.9" r="5.8" fill="#fce4d6" fill-opacity="0.7" stroke="#000" stroke-width="1.15"/>
<circle cx="1727.1" cy="1034.2" r="5.8" fill="#fce4d6" fill-opacity="0.7" stroke="#000" stroke-width="1.15"/>
<circle cx="1591.9" cy="1038.4" r="5.8" fill="#fce4d6" fill-opacity="0.7" stroke="#000" stroke-width="1.15"/>
<circle cx="1606.0" cy="1038.5" r="5.8" fill="#fce4d6" fill-opacity="0.7" stroke="#000" stroke-width="1.15"/>
<circle cx="1621.2" cy="1040.2" r="5.8" fill="#fce4d6" fill-opacity="0.7" stroke="#000" stroke-width="1.15"/>
<circle cx="1608.5" cy="1045.0" r="5.8" fill="#fce4d6" fill-opacity="0.7" stroke="#000" stroke-width="1.15"/>
<circle cx="1643.4" cy="1044.5" r="5.8" fill="#fce4d6" fill-opacity="0.7" stroke="#000" stroke-width="1.15"/>
<circle cx="1530.2" cy="1046.2" r="5.8" fill="#fce4d6" fill-opacity="0.7" stroke="#000" stroke-width="1.15"/>
<circle cx="1586.9" cy="1064.6" r="5.8" fill="#fce4d6" fill-opacity="0.7" stroke="#000" stroke-width="1.15"/>
<circle cx="1694.1" cy="1060.6" r="5.8" fill="#fce4d6" fill-opacity="0.7" stroke="#000" stroke-width="1.15"/>
<circle cx="1712.5" cy="1060.6" r="5.8" fill="#fce4d6" fill-opacity="0.7" stroke="#000" stroke-width="1.15"/>
<circle cx="1649.4" cy="1069.4" r="5.8" fill="#fce4d6" fill-opacity="0.7" stroke="#000" stroke-width="1.15"/>
<circle cx="1669.1" cy="1070.2" r="5.8" fill="#fce4d6" fill-opacity="0.7" stroke="#000" stroke-width="1.15"/>
<circle cx="1673.5" cy="1071.9" r="5.8" fill="#fce4d6" fill-opacity="0.7" stroke="#000" stroke-width="1.15"/>
<circle cx="1724.4" cy="1071.2" r="5.8" fill="#fce4d6" fill-opacity="0.7" stroke="#000" stroke-width="1.15"/>
<circle cx="1542.5" cy="1076.2" r="5.8" fill="#fce4d6" fill-opacity="0.7" stroke="#000" stroke-width="1.15"/>
<circle cx="1641.6" cy="1095.9" r="5.8" fill="#fce4d6" fill-opacity="0.7" stroke="#000" stroke-width="1.15"/>
<circle cx="1727.5" cy="1090.6" r="5.8" fill="#fce4d6" fill-opacity="0.7" stroke="#000" stroke-width="1.15"/>
<circle cx="1590.4" cy="1108.1" r="5.8" fill="#fce4d6" fill-opacity="0.7" stroke="#000" stroke-width="1.15"/>
<circle cx="1746.1" cy="996.8" r="6.9" fill="#d84a4e" fill-opacity="0.88" stroke="#000" stroke-width="1.15"/>
<circle cx="1741.6" cy="1053.5" r="6.9" fill="#7d1f27" fill-opacity="0.66" stroke="#000" stroke-width="1.15"/>
<circle cx="1869.5" cy="1023.0" r="5.8" fill="#fce4d6" fill-opacity="0.7" stroke="#000" stroke-width="1.15"/>
<circle cx="1768.4" cy="1054.1" r="5.8" fill="#fce4d6" fill-opacity="0.7" stroke="#000" stroke-width="1.15"/>
<circle cx="1773.5" cy="1058.8" r="5.8" fill="#fce4d6" fill-opacity="0.7" stroke="#000" stroke-width="1.15"/>
<circle cx="1805.4" cy="1077.5" r="5.8" fill="#fce4d6" fill-opacity="0.7" stroke="#000" stroke-width="1.15"/>
<circle cx="1849.4" cy="1075.4" r="5.8" fill="#fce4d6" fill-opacity="0.7" stroke="#000" stroke-width="1.15"/>
<circle cx="1774.0" cy="1094.8" r="5.8" fill="#fce4d6" fill-opacity="0.7" stroke="#000" stroke-width="1.15"/>
<circle cx="1865.6" cy="1092.6" r="5.8" fill="#fce4d6" fill-opacity="0.7" stroke="#000" stroke-width="1.15"/>
<circle cx="1623.2" cy="1128.8" r="6.9" fill="#7d1f27" fill-opacity="0.66" stroke="#000" stroke-width="1.15"/>
<circle cx="1664.6" cy="1176.6" r="6.9" fill="#7d1f27" fill-opacity="0.66" stroke="#000" stroke-width="1.15"/>
<circle cx="1702.5" cy="1193.4" r="6.9" fill="#7d1f27" fill-opacity="0.66" stroke="#000" stroke-width="1.15"/>
<circle cx="1727.1" cy="1191.9" r="6.9" fill="#7d1f27" fill-opacity="0.66" stroke="#000" stroke-width="1.15"/>
<circle cx="1582.8" cy="1115.4" r="6.9" fill="#f2a46c" fill-opacity="0.85" stroke="#000" stroke-width="1.15"/>
<circle cx="1596.9" cy="1122.8" r="6.9" fill="#f2a46c" fill-opacity="0.85" stroke="#000" stroke-width="1.15"/>
<circle cx="1624.4" cy="1140.6" r="6.9" fill="#f2a46c" fill-opacity="0.85" stroke="#000" stroke-width="1.15"/>
<circle cx="1607.0" cy="1221.2" r="6.9" fill="#f2a46c" fill-opacity="0.85" stroke="#000" stroke-width="1.15"/>
<circle cx="1503.1" cy="1172.2" r="6.9" fill="#d84a4e" fill-opacity="0.88" stroke="#000" stroke-width="1.15"/>
<circle cx="1609.4" cy="1180.0" r="6.9" fill="#d84a4e" fill-opacity="0.88" stroke="#000" stroke-width="1.15"/>
<circle cx="1543.9" cy="1123.2" r="5.8" fill="#fce4d6" fill-opacity="0.7" stroke="#000" stroke-width="1.15"/>
<circle cx="1572.2" cy="1122.2" r="5.8" fill="#fce4d6" fill-opacity="0.7" stroke="#000" stroke-width="1.15"/>
<circle cx="1601.0" cy="1116.5" r="5.8" fill="#fce4d6" fill-opacity="0.7" stroke="#000" stroke-width="1.15"/>
<circle cx="1669.0" cy="1127.5" r="5.8" fill="#fce4d6" fill-opacity="0.7" stroke="#000" stroke-width="1.15"/>
<circle cx="1574.0" cy="1143.1" r="5.8" fill="#fce4d6" fill-opacity="0.7" stroke="#000" stroke-width="1.15"/>
<circle cx="1573.5" cy="1155.6" r="5.8" fill="#fce4d6" fill-opacity="0.7" stroke="#000" stroke-width="1.15"/>
<circle cx="1598.5" cy="1157.8" r="5.8" fill="#fce4d6" fill-opacity="0.7" stroke="#000" stroke-width="1.15"/>
<circle cx="1710.9" cy="1139.2" r="5.8" fill="#fce4d6" fill-opacity="0.7" stroke="#000" stroke-width="1.15"/>
<circle cx="1717.0" cy="1147.8" r="5.8" fill="#fce4d6" fill-opacity="0.7" stroke="#000" stroke-width="1.15"/>
<circle cx="1735.2" cy="1148.8" r="5.8" fill="#fce4d6" fill-opacity="0.7" stroke="#000" stroke-width="1.15"/>
<circle cx="1711.9" cy="1164.4" r="5.8" fill="#fce4d6" fill-opacity="0.7" stroke="#000" stroke-width="1.15"/>
<circle cx="1718.4" cy="1167.5" r="5.8" fill="#fce4d6" fill-opacity="0.7" stroke="#000" stroke-width="1.15"/>
<circle cx="1732.1" cy="1173.4" r="5.8" fill="#fce4d6" fill-opacity="0.7" stroke="#000" stroke-width="1.15"/>
<circle cx="1535.0" cy="1177.4" r="5.8" fill="#fce4d6" fill-opacity="0.7" stroke="#000" stroke-width="1.15"/>
<circle cx="1575.2" cy="1200.5" r="5.8" fill="#fce4d6" fill-opacity="0.7" stroke="#000" stroke-width="1.15"/>
<circle cx="1600.4" cy="1203.4" r="5.8" fill="#fce4d6" fill-opacity="0.7" stroke="#000" stroke-width="1.15"/>
<circle cx="1657.4" cy="1286.4" r="5.8" fill="#fce4d6" fill-opacity="0.7" stroke="#000" stroke-width="1.15"/>
<circle cx="1808.2" cy="1135.0" r="6.9" fill="#7d1f27" fill-opacity="0.66" stroke="#000" stroke-width="1.15"/>
<circle cx="1761.2" cy="1176.6" r="6.9" fill="#7d1f27" fill-opacity="0.66" stroke="#000" stroke-width="1.15"/>
<circle cx="1783.4" cy="1129.6" r="6.9" fill="#d84a4e" fill-opacity="0.88" stroke="#000" stroke-width="1.15"/>
<circle cx="1779.6" cy="1212.5" r="6.9" fill="#d84a4e" fill-opacity="0.88" stroke="#000" stroke-width="1.15"/>
<circle cx="1790.4" cy="1120.9" r="5.8" fill="#fce4d6" fill-opacity="0.7" stroke="#000" stroke-width="1.15"/>
<circle cx="1760.6" cy="1126.6" r="5.8" fill="#fce4d6" fill-opacity="0.7" stroke="#000" stroke-width="1.15"/>
<circle cx="1755.5" cy="1136.2" r="5.8" fill="#fce4d6" fill-opacity="0.7" stroke="#000" stroke-width="1.15"/>
<circle cx="1741.0" cy="1157.5" r="5.8" fill="#fce4d6" fill-opacity="0.7" stroke="#000" stroke-width="1.15"/>
<circle cx="1927.1" cy="1167.9" r="5.8" fill="#fce4d6" fill-opacity="0.7" stroke="#000" stroke-width="1.15"/>
<circle cx="1803.1" cy="1199.1" r="5.8" fill="#fce4d6" fill-opacity="0.7" stroke="#000" stroke-width="1.15"/>
<circle cx="1841.6" cy="1195.6" r="5.8" fill="#fce4d6" fill-opacity="0.7" stroke="#000" stroke-width="1.15"/>
<path d="M1501.8 1033.6L1925 1138.4" stroke="#000" stroke-width="2.35" stroke-dasharray="8.9 8.895" fill="none"/>
<circle cx="1814.2" cy="1109.4" r="6.6" fill="#f9cdb0" fill-opacity="1.0" stroke="#000" stroke-width="1.9"/>
<text x="1975" y="1383" font-size="25.6" text-anchor="end">Pearson R = -0.295</text>
<text x="1975" y="1412.2" font-size="25.6" text-anchor="end"><tspan font-style="italic">P</tspan> = 1.0x10<tspan font-size="16.5" dy="-7.4" dx="0.6">-3</tspan></text>
</g>
<text x="1378.7" y="1554.3" font-size="27.7" text-anchor="middle">Proportion of feedings with breast milk (%)</text>
<circle cx="1168.4" cy="1589.1" r="6.9" fill="#7d1f27" fill-opacity="0.66" stroke="#000" stroke-width="1"/>
<text x="1181.5" y="1597.3" font-size="25.4" text-anchor="start">90-100</text>
<circle cx="1303.8" cy="1589.1" r="6.9" fill="#d84a4e" fill-opacity="0.88" stroke="#000" stroke-width="1"/>
<text x="1316.9" y="1597.3" font-size="25.4" text-anchor="start">50-90</text>
<circle cx="1424.7" cy="1589.1" r="6.9" fill="#f2a46c" fill-opacity="0.85" stroke="#000" stroke-width="1"/>
<text x="1437.8" y="1597.3" font-size="25.4" text-anchor="start">10-50</text>
<circle cx="1546.4" cy="1589.1" r="5.8" fill="#fce4d6" fill-opacity="0.7" stroke="#000" stroke-width="1"/>
<text x="1559.5" y="1597.3" font-size="25.4" text-anchor="start">0-10</text>
</svg>
</body></html>
